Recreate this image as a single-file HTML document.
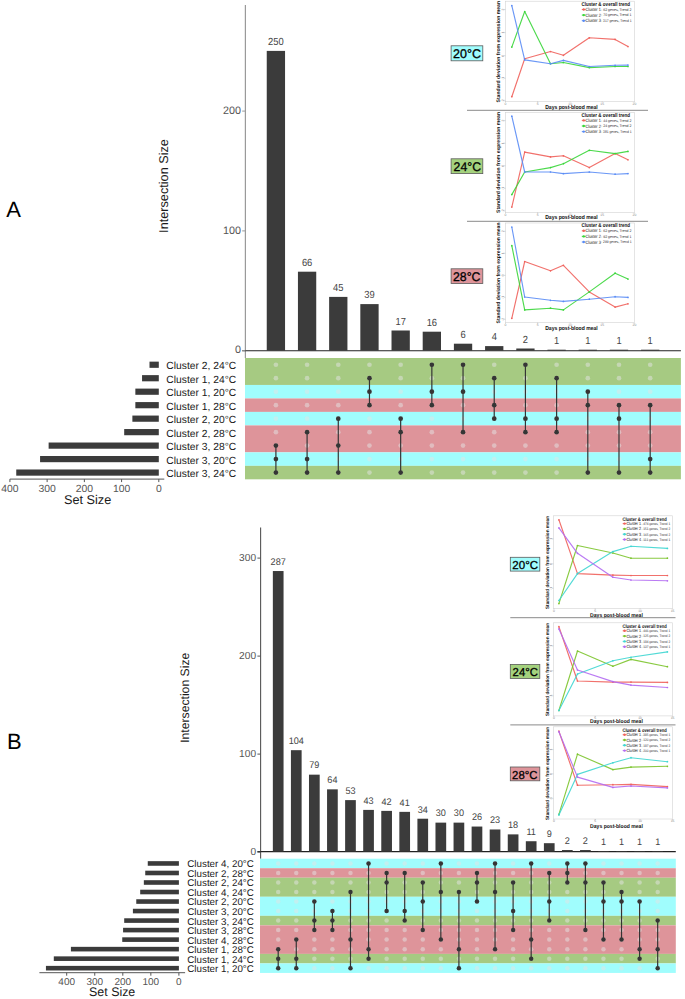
<!DOCTYPE html>
<html><head><meta charset="utf-8"><title>UpSet plots</title>
<style>
html,body{margin:0;padding:0;background:#fff;}
body{width:685px;height:999px;overflow:hidden;font-family:"Liberation Sans", sans-serif;}
svg{display:block;font-family:"Liberation Sans", sans-serif;}
</style></head>
<body>
<svg text-rendering="geometricPrecision" width="685" height="999" viewBox="0 0 685 999">
<rect width="685" height="999" fill="#fff"/>
<line x1="245.4" y1="5" x2="245.4" y2="358.0" stroke="#9a9a9a" stroke-width="1.2"/>
<line x1="242.20000000000002" y1="350.7" x2="680.9" y2="350.7" stroke="#222" stroke-width="1.1"/>
<line x1="242.20000000000002" y1="350.70" x2="245.4" y2="350.70" stroke="#9a9a9a" stroke-width="1"/>
<text x="240.90" y="353.49" font-size="10.8" fill="#555" text-anchor="end" font-weight="normal" >0</text>
<line x1="242.20000000000002" y1="230.90" x2="245.4" y2="230.90" stroke="#9a9a9a" stroke-width="1"/>
<text x="240.90" y="233.69" font-size="10.8" fill="#555" text-anchor="end" font-weight="normal" >100</text>
<line x1="242.20000000000002" y1="111.10" x2="245.4" y2="111.10" stroke="#9a9a9a" stroke-width="1"/>
<text x="240.90" y="113.89" font-size="10.8" fill="#555" text-anchor="end" font-weight="normal" >200</text>
<rect x="266.75" y="50.90" width="18.3" height="299.80" fill="#3b3b3b"/>
<text x="275.90" y="45.10" font-size="10.3" fill="#444" text-anchor="middle" font-weight="normal" textLength="15.64" lengthAdjust="spacingAndGlyphs">250</text>
<rect x="297.94" y="271.70" width="18.3" height="79.00" fill="#3b3b3b"/>
<text x="307.09" y="265.90" font-size="10.3" fill="#444" text-anchor="middle" font-weight="normal" textLength="10.42" lengthAdjust="spacingAndGlyphs">66</text>
<rect x="329.13" y="296.90" width="18.3" height="53.80" fill="#3b3b3b"/>
<text x="338.28" y="291.10" font-size="10.3" fill="#444" text-anchor="middle" font-weight="normal" textLength="10.42" lengthAdjust="spacingAndGlyphs">45</text>
<rect x="360.32" y="304.10" width="18.3" height="46.60" fill="#3b3b3b"/>
<text x="369.47" y="298.30" font-size="10.3" fill="#444" text-anchor="middle" font-weight="normal" textLength="10.42" lengthAdjust="spacingAndGlyphs">39</text>
<rect x="391.51" y="330.50" width="18.3" height="20.20" fill="#3b3b3b"/>
<text x="400.66" y="324.70" font-size="10.3" fill="#444" text-anchor="middle" font-weight="normal" textLength="10.42" lengthAdjust="spacingAndGlyphs">17</text>
<rect x="422.70" y="331.70" width="18.3" height="19.00" fill="#3b3b3b"/>
<text x="431.85" y="325.90" font-size="10.3" fill="#444" text-anchor="middle" font-weight="normal" textLength="10.42" lengthAdjust="spacingAndGlyphs">16</text>
<rect x="453.89" y="343.70" width="18.3" height="7.00" fill="#3b3b3b"/>
<text x="463.04" y="337.90" font-size="10.3" fill="#444" text-anchor="middle" font-weight="normal" textLength="5.21" lengthAdjust="spacingAndGlyphs">6</text>
<rect x="485.08" y="346.10" width="18.3" height="4.60" fill="#3b3b3b"/>
<text x="494.23" y="340.30" font-size="10.3" fill="#444" text-anchor="middle" font-weight="normal" textLength="5.21" lengthAdjust="spacingAndGlyphs">4</text>
<rect x="516.27" y="348.50" width="18.3" height="2.20" fill="#3b3b3b"/>
<text x="525.42" y="342.70" font-size="10.3" fill="#444" text-anchor="middle" font-weight="normal" textLength="5.21" lengthAdjust="spacingAndGlyphs">2</text>
<rect x="547.46" y="349.70" width="18.3" height="1.00" fill="#3b3b3b"/>
<text x="556.61" y="343.90" font-size="10.3" fill="#444" text-anchor="middle" font-weight="normal" textLength="5.21" lengthAdjust="spacingAndGlyphs">1</text>
<rect x="578.65" y="349.70" width="18.3" height="1.00" fill="#3b3b3b"/>
<text x="587.80" y="343.90" font-size="10.3" fill="#444" text-anchor="middle" font-weight="normal" textLength="5.21" lengthAdjust="spacingAndGlyphs">1</text>
<rect x="609.84" y="349.70" width="18.3" height="1.00" fill="#3b3b3b"/>
<text x="618.99" y="343.90" font-size="10.3" fill="#444" text-anchor="middle" font-weight="normal" textLength="5.21" lengthAdjust="spacingAndGlyphs">1</text>
<rect x="641.03" y="349.70" width="18.3" height="1.00" fill="#3b3b3b"/>
<text x="650.18" y="343.90" font-size="10.3" fill="#444" text-anchor="middle" font-weight="normal" textLength="5.21" lengthAdjust="spacingAndGlyphs">1</text>
<rect x="245.0" y="358.00" width="435.90" height="26.96" fill="#a6ca82"/>
<rect x="245.0" y="384.96" width="435.90" height="13.48" fill="#a0fdfd"/>
<rect x="245.0" y="398.44" width="435.90" height="13.48" fill="#de949a"/>
<rect x="245.0" y="411.92" width="435.90" height="13.48" fill="#a0fdfd"/>
<rect x="245.0" y="425.40" width="435.90" height="26.96" fill="#de949a"/>
<rect x="245.0" y="452.36" width="435.90" height="13.48" fill="#a0fdfd"/>
<rect x="245.0" y="465.84" width="435.90" height="13.48" fill="#a6ca82"/>
<circle cx="275.90" cy="364.74" r="2.35" fill="rgba(228,228,228,0.5)"/>
<circle cx="275.90" cy="378.22" r="2.35" fill="rgba(228,228,228,0.5)"/>
<circle cx="275.90" cy="391.70" r="2.35" fill="rgba(228,228,228,0.5)"/>
<circle cx="275.90" cy="405.18" r="2.35" fill="rgba(228,228,228,0.5)"/>
<circle cx="275.90" cy="418.66" r="2.35" fill="rgba(228,228,228,0.5)"/>
<circle cx="275.90" cy="432.14" r="2.35" fill="rgba(228,228,228,0.5)"/>
<circle cx="275.90" cy="445.62" r="2.35" fill="rgba(228,228,228,0.5)"/>
<circle cx="275.90" cy="459.10" r="2.35" fill="rgba(228,228,228,0.5)"/>
<circle cx="275.90" cy="472.58" r="2.35" fill="rgba(228,228,228,0.5)"/>
<circle cx="307.09" cy="364.74" r="2.35" fill="rgba(228,228,228,0.5)"/>
<circle cx="307.09" cy="378.22" r="2.35" fill="rgba(228,228,228,0.5)"/>
<circle cx="307.09" cy="391.70" r="2.35" fill="rgba(228,228,228,0.5)"/>
<circle cx="307.09" cy="405.18" r="2.35" fill="rgba(228,228,228,0.5)"/>
<circle cx="307.09" cy="418.66" r="2.35" fill="rgba(228,228,228,0.5)"/>
<circle cx="307.09" cy="432.14" r="2.35" fill="rgba(228,228,228,0.5)"/>
<circle cx="307.09" cy="445.62" r="2.35" fill="rgba(228,228,228,0.5)"/>
<circle cx="307.09" cy="459.10" r="2.35" fill="rgba(228,228,228,0.5)"/>
<circle cx="307.09" cy="472.58" r="2.35" fill="rgba(228,228,228,0.5)"/>
<circle cx="338.28" cy="364.74" r="2.35" fill="rgba(228,228,228,0.5)"/>
<circle cx="338.28" cy="378.22" r="2.35" fill="rgba(228,228,228,0.5)"/>
<circle cx="338.28" cy="391.70" r="2.35" fill="rgba(228,228,228,0.5)"/>
<circle cx="338.28" cy="405.18" r="2.35" fill="rgba(228,228,228,0.5)"/>
<circle cx="338.28" cy="418.66" r="2.35" fill="rgba(228,228,228,0.5)"/>
<circle cx="338.28" cy="432.14" r="2.35" fill="rgba(228,228,228,0.5)"/>
<circle cx="338.28" cy="445.62" r="2.35" fill="rgba(228,228,228,0.5)"/>
<circle cx="338.28" cy="459.10" r="2.35" fill="rgba(228,228,228,0.5)"/>
<circle cx="338.28" cy="472.58" r="2.35" fill="rgba(228,228,228,0.5)"/>
<circle cx="369.47" cy="364.74" r="2.35" fill="rgba(228,228,228,0.5)"/>
<circle cx="369.47" cy="378.22" r="2.35" fill="rgba(228,228,228,0.5)"/>
<circle cx="369.47" cy="391.70" r="2.35" fill="rgba(228,228,228,0.5)"/>
<circle cx="369.47" cy="405.18" r="2.35" fill="rgba(228,228,228,0.5)"/>
<circle cx="369.47" cy="418.66" r="2.35" fill="rgba(228,228,228,0.5)"/>
<circle cx="369.47" cy="432.14" r="2.35" fill="rgba(228,228,228,0.5)"/>
<circle cx="369.47" cy="445.62" r="2.35" fill="rgba(228,228,228,0.5)"/>
<circle cx="369.47" cy="459.10" r="2.35" fill="rgba(228,228,228,0.5)"/>
<circle cx="369.47" cy="472.58" r="2.35" fill="rgba(228,228,228,0.5)"/>
<circle cx="400.66" cy="364.74" r="2.35" fill="rgba(228,228,228,0.5)"/>
<circle cx="400.66" cy="378.22" r="2.35" fill="rgba(228,228,228,0.5)"/>
<circle cx="400.66" cy="391.70" r="2.35" fill="rgba(228,228,228,0.5)"/>
<circle cx="400.66" cy="405.18" r="2.35" fill="rgba(228,228,228,0.5)"/>
<circle cx="400.66" cy="418.66" r="2.35" fill="rgba(228,228,228,0.5)"/>
<circle cx="400.66" cy="432.14" r="2.35" fill="rgba(228,228,228,0.5)"/>
<circle cx="400.66" cy="445.62" r="2.35" fill="rgba(228,228,228,0.5)"/>
<circle cx="400.66" cy="459.10" r="2.35" fill="rgba(228,228,228,0.5)"/>
<circle cx="400.66" cy="472.58" r="2.35" fill="rgba(228,228,228,0.5)"/>
<circle cx="431.85" cy="364.74" r="2.35" fill="rgba(228,228,228,0.5)"/>
<circle cx="431.85" cy="378.22" r="2.35" fill="rgba(228,228,228,0.5)"/>
<circle cx="431.85" cy="391.70" r="2.35" fill="rgba(228,228,228,0.5)"/>
<circle cx="431.85" cy="405.18" r="2.35" fill="rgba(228,228,228,0.5)"/>
<circle cx="431.85" cy="418.66" r="2.35" fill="rgba(228,228,228,0.5)"/>
<circle cx="431.85" cy="432.14" r="2.35" fill="rgba(228,228,228,0.5)"/>
<circle cx="431.85" cy="445.62" r="2.35" fill="rgba(228,228,228,0.5)"/>
<circle cx="431.85" cy="459.10" r="2.35" fill="rgba(228,228,228,0.5)"/>
<circle cx="431.85" cy="472.58" r="2.35" fill="rgba(228,228,228,0.5)"/>
<circle cx="463.04" cy="364.74" r="2.35" fill="rgba(228,228,228,0.5)"/>
<circle cx="463.04" cy="378.22" r="2.35" fill="rgba(228,228,228,0.5)"/>
<circle cx="463.04" cy="391.70" r="2.35" fill="rgba(228,228,228,0.5)"/>
<circle cx="463.04" cy="405.18" r="2.35" fill="rgba(228,228,228,0.5)"/>
<circle cx="463.04" cy="418.66" r="2.35" fill="rgba(228,228,228,0.5)"/>
<circle cx="463.04" cy="432.14" r="2.35" fill="rgba(228,228,228,0.5)"/>
<circle cx="463.04" cy="445.62" r="2.35" fill="rgba(228,228,228,0.5)"/>
<circle cx="463.04" cy="459.10" r="2.35" fill="rgba(228,228,228,0.5)"/>
<circle cx="463.04" cy="472.58" r="2.35" fill="rgba(228,228,228,0.5)"/>
<circle cx="494.23" cy="364.74" r="2.35" fill="rgba(228,228,228,0.5)"/>
<circle cx="494.23" cy="378.22" r="2.35" fill="rgba(228,228,228,0.5)"/>
<circle cx="494.23" cy="391.70" r="2.35" fill="rgba(228,228,228,0.5)"/>
<circle cx="494.23" cy="405.18" r="2.35" fill="rgba(228,228,228,0.5)"/>
<circle cx="494.23" cy="418.66" r="2.35" fill="rgba(228,228,228,0.5)"/>
<circle cx="494.23" cy="432.14" r="2.35" fill="rgba(228,228,228,0.5)"/>
<circle cx="494.23" cy="445.62" r="2.35" fill="rgba(228,228,228,0.5)"/>
<circle cx="494.23" cy="459.10" r="2.35" fill="rgba(228,228,228,0.5)"/>
<circle cx="494.23" cy="472.58" r="2.35" fill="rgba(228,228,228,0.5)"/>
<circle cx="525.42" cy="364.74" r="2.35" fill="rgba(228,228,228,0.5)"/>
<circle cx="525.42" cy="378.22" r="2.35" fill="rgba(228,228,228,0.5)"/>
<circle cx="525.42" cy="391.70" r="2.35" fill="rgba(228,228,228,0.5)"/>
<circle cx="525.42" cy="405.18" r="2.35" fill="rgba(228,228,228,0.5)"/>
<circle cx="525.42" cy="418.66" r="2.35" fill="rgba(228,228,228,0.5)"/>
<circle cx="525.42" cy="432.14" r="2.35" fill="rgba(228,228,228,0.5)"/>
<circle cx="525.42" cy="445.62" r="2.35" fill="rgba(228,228,228,0.5)"/>
<circle cx="525.42" cy="459.10" r="2.35" fill="rgba(228,228,228,0.5)"/>
<circle cx="525.42" cy="472.58" r="2.35" fill="rgba(228,228,228,0.5)"/>
<circle cx="556.61" cy="364.74" r="2.35" fill="rgba(228,228,228,0.5)"/>
<circle cx="556.61" cy="378.22" r="2.35" fill="rgba(228,228,228,0.5)"/>
<circle cx="556.61" cy="391.70" r="2.35" fill="rgba(228,228,228,0.5)"/>
<circle cx="556.61" cy="405.18" r="2.35" fill="rgba(228,228,228,0.5)"/>
<circle cx="556.61" cy="418.66" r="2.35" fill="rgba(228,228,228,0.5)"/>
<circle cx="556.61" cy="432.14" r="2.35" fill="rgba(228,228,228,0.5)"/>
<circle cx="556.61" cy="445.62" r="2.35" fill="rgba(228,228,228,0.5)"/>
<circle cx="556.61" cy="459.10" r="2.35" fill="rgba(228,228,228,0.5)"/>
<circle cx="556.61" cy="472.58" r="2.35" fill="rgba(228,228,228,0.5)"/>
<circle cx="587.80" cy="364.74" r="2.35" fill="rgba(228,228,228,0.5)"/>
<circle cx="587.80" cy="378.22" r="2.35" fill="rgba(228,228,228,0.5)"/>
<circle cx="587.80" cy="391.70" r="2.35" fill="rgba(228,228,228,0.5)"/>
<circle cx="587.80" cy="405.18" r="2.35" fill="rgba(228,228,228,0.5)"/>
<circle cx="587.80" cy="418.66" r="2.35" fill="rgba(228,228,228,0.5)"/>
<circle cx="587.80" cy="432.14" r="2.35" fill="rgba(228,228,228,0.5)"/>
<circle cx="587.80" cy="445.62" r="2.35" fill="rgba(228,228,228,0.5)"/>
<circle cx="587.80" cy="459.10" r="2.35" fill="rgba(228,228,228,0.5)"/>
<circle cx="587.80" cy="472.58" r="2.35" fill="rgba(228,228,228,0.5)"/>
<circle cx="618.99" cy="364.74" r="2.35" fill="rgba(228,228,228,0.5)"/>
<circle cx="618.99" cy="378.22" r="2.35" fill="rgba(228,228,228,0.5)"/>
<circle cx="618.99" cy="391.70" r="2.35" fill="rgba(228,228,228,0.5)"/>
<circle cx="618.99" cy="405.18" r="2.35" fill="rgba(228,228,228,0.5)"/>
<circle cx="618.99" cy="418.66" r="2.35" fill="rgba(228,228,228,0.5)"/>
<circle cx="618.99" cy="432.14" r="2.35" fill="rgba(228,228,228,0.5)"/>
<circle cx="618.99" cy="445.62" r="2.35" fill="rgba(228,228,228,0.5)"/>
<circle cx="618.99" cy="459.10" r="2.35" fill="rgba(228,228,228,0.5)"/>
<circle cx="618.99" cy="472.58" r="2.35" fill="rgba(228,228,228,0.5)"/>
<circle cx="650.18" cy="364.74" r="2.35" fill="rgba(228,228,228,0.5)"/>
<circle cx="650.18" cy="378.22" r="2.35" fill="rgba(228,228,228,0.5)"/>
<circle cx="650.18" cy="391.70" r="2.35" fill="rgba(228,228,228,0.5)"/>
<circle cx="650.18" cy="405.18" r="2.35" fill="rgba(228,228,228,0.5)"/>
<circle cx="650.18" cy="418.66" r="2.35" fill="rgba(228,228,228,0.5)"/>
<circle cx="650.18" cy="432.14" r="2.35" fill="rgba(228,228,228,0.5)"/>
<circle cx="650.18" cy="445.62" r="2.35" fill="rgba(228,228,228,0.5)"/>
<circle cx="650.18" cy="459.10" r="2.35" fill="rgba(228,228,228,0.5)"/>
<circle cx="650.18" cy="472.58" r="2.35" fill="rgba(228,228,228,0.5)"/>
<line x1="275.90" y1="445.62" x2="275.90" y2="472.58" stroke="#353535" stroke-width="1.2"/>
<circle cx="275.90" cy="445.62" r="2.35" fill="#353535"/>
<circle cx="275.90" cy="459.10" r="2.35" fill="#353535"/>
<circle cx="275.90" cy="472.58" r="2.35" fill="#353535"/>
<line x1="307.09" y1="432.14" x2="307.09" y2="472.58" stroke="#353535" stroke-width="1.2"/>
<circle cx="307.09" cy="432.14" r="2.35" fill="#353535"/>
<circle cx="307.09" cy="459.10" r="2.35" fill="#353535"/>
<circle cx="307.09" cy="472.58" r="2.35" fill="#353535"/>
<line x1="338.28" y1="418.66" x2="338.28" y2="472.58" stroke="#353535" stroke-width="1.2"/>
<circle cx="338.28" cy="418.66" r="2.35" fill="#353535"/>
<circle cx="338.28" cy="445.62" r="2.35" fill="#353535"/>
<circle cx="338.28" cy="472.58" r="2.35" fill="#353535"/>
<line x1="369.47" y1="378.22" x2="369.47" y2="405.18" stroke="#353535" stroke-width="1.2"/>
<circle cx="369.47" cy="378.22" r="2.35" fill="#353535"/>
<circle cx="369.47" cy="391.70" r="2.35" fill="#353535"/>
<circle cx="369.47" cy="405.18" r="2.35" fill="#353535"/>
<line x1="400.66" y1="418.66" x2="400.66" y2="472.58" stroke="#353535" stroke-width="1.2"/>
<circle cx="400.66" cy="418.66" r="2.35" fill="#353535"/>
<circle cx="400.66" cy="432.14" r="2.35" fill="#353535"/>
<circle cx="400.66" cy="472.58" r="2.35" fill="#353535"/>
<line x1="431.85" y1="364.74" x2="431.85" y2="405.18" stroke="#353535" stroke-width="1.2"/>
<circle cx="431.85" cy="364.74" r="2.35" fill="#353535"/>
<circle cx="431.85" cy="391.70" r="2.35" fill="#353535"/>
<circle cx="431.85" cy="405.18" r="2.35" fill="#353535"/>
<line x1="463.04" y1="364.74" x2="463.04" y2="432.14" stroke="#353535" stroke-width="1.2"/>
<circle cx="463.04" cy="364.74" r="2.35" fill="#353535"/>
<circle cx="463.04" cy="391.70" r="2.35" fill="#353535"/>
<circle cx="463.04" cy="432.14" r="2.35" fill="#353535"/>
<line x1="494.23" y1="378.22" x2="494.23" y2="418.66" stroke="#353535" stroke-width="1.2"/>
<circle cx="494.23" cy="378.22" r="2.35" fill="#353535"/>
<circle cx="494.23" cy="405.18" r="2.35" fill="#353535"/>
<circle cx="494.23" cy="418.66" r="2.35" fill="#353535"/>
<line x1="525.42" y1="364.74" x2="525.42" y2="432.14" stroke="#353535" stroke-width="1.2"/>
<circle cx="525.42" cy="364.74" r="2.35" fill="#353535"/>
<circle cx="525.42" cy="418.66" r="2.35" fill="#353535"/>
<circle cx="525.42" cy="432.14" r="2.35" fill="#353535"/>
<line x1="556.61" y1="378.22" x2="556.61" y2="432.14" stroke="#353535" stroke-width="1.2"/>
<circle cx="556.61" cy="378.22" r="2.35" fill="#353535"/>
<circle cx="556.61" cy="418.66" r="2.35" fill="#353535"/>
<circle cx="556.61" cy="432.14" r="2.35" fill="#353535"/>
<line x1="587.80" y1="391.70" x2="587.80" y2="472.58" stroke="#353535" stroke-width="1.2"/>
<circle cx="587.80" cy="391.70" r="2.35" fill="#353535"/>
<circle cx="587.80" cy="405.18" r="2.35" fill="#353535"/>
<circle cx="587.80" cy="472.58" r="2.35" fill="#353535"/>
<line x1="618.99" y1="405.18" x2="618.99" y2="472.58" stroke="#353535" stroke-width="1.2"/>
<circle cx="618.99" cy="405.18" r="2.35" fill="#353535"/>
<circle cx="618.99" cy="418.66" r="2.35" fill="#353535"/>
<circle cx="618.99" cy="472.58" r="2.35" fill="#353535"/>
<line x1="650.18" y1="405.18" x2="650.18" y2="472.58" stroke="#353535" stroke-width="1.2"/>
<circle cx="650.18" cy="405.18" r="2.35" fill="#353535"/>
<circle cx="650.18" cy="459.10" r="2.35" fill="#353535"/>
<circle cx="650.18" cy="472.58" r="2.35" fill="#353535"/>
<rect x="149.50" y="361.64" width="9.30" height="6.2" fill="#3b3b3b"/>
<text x="166.30" y="369.35" font-size="10.3" fill="#1a1a1a" text-anchor="start" font-weight="normal" >Cluster 2, 24°C</text>
<rect x="142.05" y="375.12" width="16.75" height="6.2" fill="#3b3b3b"/>
<text x="166.30" y="382.83" font-size="10.3" fill="#1a1a1a" text-anchor="start" font-weight="normal" >Cluster 1, 24°C</text>
<rect x="135.35" y="388.60" width="23.45" height="6.2" fill="#3b3b3b"/>
<text x="166.30" y="396.31" font-size="10.3" fill="#1a1a1a" text-anchor="start" font-weight="normal" >Cluster 1, 20°C</text>
<rect x="135.35" y="402.08" width="23.45" height="6.2" fill="#3b3b3b"/>
<text x="166.30" y="409.79" font-size="10.3" fill="#1a1a1a" text-anchor="start" font-weight="normal" >Cluster 1, 28°C</text>
<rect x="132.37" y="415.56" width="26.43" height="6.2" fill="#3b3b3b"/>
<text x="166.30" y="423.27" font-size="10.3" fill="#1a1a1a" text-anchor="start" font-weight="normal" >Cluster 2, 20°C</text>
<rect x="124.19" y="429.04" width="34.61" height="6.2" fill="#3b3b3b"/>
<text x="166.30" y="436.75" font-size="10.3" fill="#1a1a1a" text-anchor="start" font-weight="normal" >Cluster 2, 28°C</text>
<rect x="48.63" y="442.52" width="110.17" height="6.2" fill="#3b3b3b"/>
<text x="166.30" y="450.23" font-size="10.3" fill="#1a1a1a" text-anchor="start" font-weight="normal" >Cluster 3, 28°C</text>
<rect x="40.07" y="456.00" width="118.73" height="6.2" fill="#3b3b3b"/>
<text x="166.30" y="463.71" font-size="10.3" fill="#1a1a1a" text-anchor="start" font-weight="normal" >Cluster 3, 20°C</text>
<rect x="16.25" y="469.48" width="142.55" height="6.2" fill="#3b3b3b"/>
<text x="166.30" y="477.19" font-size="10.3" fill="#1a1a1a" text-anchor="start" font-weight="normal" >Cluster 3, 24°C</text>
<line x1="9.9" y1="479.1" x2="164.3" y2="479.1" stroke="#555" stroke-width="1"/>
<line x1="158.80" y1="479.1" x2="158.80" y2="482.1" stroke="#555" stroke-width="1"/>
<text x="158.80" y="491.80" font-size="10.4" fill="#555" text-anchor="middle" font-weight="normal" >0</text>
<line x1="121.58" y1="479.1" x2="121.58" y2="482.1" stroke="#555" stroke-width="1"/>
<text x="121.58" y="491.80" font-size="10.4" fill="#555" text-anchor="middle" font-weight="normal" >100</text>
<line x1="84.36" y1="479.1" x2="84.36" y2="482.1" stroke="#555" stroke-width="1"/>
<text x="84.36" y="491.80" font-size="10.4" fill="#555" text-anchor="middle" font-weight="normal" >200</text>
<line x1="47.14" y1="479.1" x2="47.14" y2="482.1" stroke="#555" stroke-width="1"/>
<text x="47.14" y="491.80" font-size="10.4" fill="#555" text-anchor="middle" font-weight="normal" >300</text>
<line x1="9.92" y1="479.1" x2="9.92" y2="482.1" stroke="#555" stroke-width="1"/>
<text x="9.92" y="491.80" font-size="10.4" fill="#555" text-anchor="middle" font-weight="normal" >400</text>
<text x="87.60" y="504.00" font-size="12.7" fill="#1a1a1a" text-anchor="middle" font-weight="normal" >Set Size</text>
<text x="0" y="0" font-size="12.7" fill="#1a1a1a" text-anchor="middle" transform="translate(167.6,186.0) rotate(-90)">Intersection Size</text>
<text x="6.30" y="217.20" font-size="22" fill="#000" text-anchor="start" font-weight="normal" >A</text>
<line x1="260.6" y1="527.4" x2="260.6" y2="858.7" stroke="#555" stroke-width="1.1"/>
<line x1="257.40000000000003" y1="851.6" x2="675.8" y2="851.6" stroke="#222" stroke-width="1.1"/>
<line x1="257.40000000000003" y1="852.10" x2="260.6" y2="852.10" stroke="#555" stroke-width="1"/>
<text x="256.10" y="854.67" font-size="10.2" fill="#555" text-anchor="end" font-weight="normal" >0</text>
<line x1="257.40000000000003" y1="754.10" x2="260.6" y2="754.10" stroke="#555" stroke-width="1"/>
<text x="256.10" y="756.67" font-size="10.2" fill="#555" text-anchor="end" font-weight="normal" >100</text>
<line x1="257.40000000000003" y1="656.10" x2="260.6" y2="656.10" stroke="#555" stroke-width="1"/>
<text x="256.10" y="658.67" font-size="10.2" fill="#555" text-anchor="end" font-weight="normal" >200</text>
<line x1="257.40000000000003" y1="558.10" x2="260.6" y2="558.10" stroke="#555" stroke-width="1"/>
<text x="256.10" y="560.67" font-size="10.2" fill="#555" text-anchor="end" font-weight="normal" >300</text>
<rect x="272.85" y="571.03" width="10.7" height="280.57" fill="#3b3b3b"/>
<text x="278.20" y="564.83" font-size="9.6" fill="#444" text-anchor="middle" font-weight="normal" textLength="15.21" lengthAdjust="spacingAndGlyphs">287</text>
<rect x="290.92" y="750.18" width="10.7" height="101.42" fill="#3b3b3b"/>
<text x="296.27" y="743.98" font-size="9.6" fill="#444" text-anchor="middle" font-weight="normal" textLength="15.21" lengthAdjust="spacingAndGlyphs">104</text>
<rect x="308.99" y="774.66" width="10.7" height="76.94" fill="#3b3b3b"/>
<text x="314.34" y="768.46" font-size="9.6" fill="#444" text-anchor="middle" font-weight="normal" textLength="10.14" lengthAdjust="spacingAndGlyphs">79</text>
<rect x="327.06" y="789.34" width="10.7" height="62.26" fill="#3b3b3b"/>
<text x="332.41" y="783.14" font-size="9.6" fill="#444" text-anchor="middle" font-weight="normal" textLength="10.14" lengthAdjust="spacingAndGlyphs">64</text>
<rect x="345.13" y="800.11" width="10.7" height="51.49" fill="#3b3b3b"/>
<text x="350.48" y="793.91" font-size="9.6" fill="#444" text-anchor="middle" font-weight="normal" textLength="10.14" lengthAdjust="spacingAndGlyphs">53</text>
<rect x="363.20" y="809.90" width="10.7" height="41.70" fill="#3b3b3b"/>
<text x="368.55" y="803.70" font-size="9.6" fill="#444" text-anchor="middle" font-weight="normal" textLength="10.14" lengthAdjust="spacingAndGlyphs">43</text>
<rect x="381.27" y="810.88" width="10.7" height="40.72" fill="#3b3b3b"/>
<text x="386.62" y="804.68" font-size="9.6" fill="#444" text-anchor="middle" font-weight="normal" textLength="10.14" lengthAdjust="spacingAndGlyphs">42</text>
<rect x="399.34" y="811.86" width="10.7" height="39.74" fill="#3b3b3b"/>
<text x="404.69" y="805.66" font-size="9.6" fill="#444" text-anchor="middle" font-weight="normal" textLength="10.14" lengthAdjust="spacingAndGlyphs">41</text>
<rect x="417.41" y="818.71" width="10.7" height="32.89" fill="#3b3b3b"/>
<text x="422.76" y="812.51" font-size="9.6" fill="#444" text-anchor="middle" font-weight="normal" textLength="10.14" lengthAdjust="spacingAndGlyphs">34</text>
<rect x="435.48" y="822.63" width="10.7" height="28.97" fill="#3b3b3b"/>
<text x="440.83" y="816.43" font-size="9.6" fill="#444" text-anchor="middle" font-weight="normal" textLength="10.14" lengthAdjust="spacingAndGlyphs">30</text>
<rect x="453.55" y="822.63" width="10.7" height="28.97" fill="#3b3b3b"/>
<text x="458.90" y="816.43" font-size="9.6" fill="#444" text-anchor="middle" font-weight="normal" textLength="10.14" lengthAdjust="spacingAndGlyphs">30</text>
<rect x="471.62" y="826.55" width="10.7" height="25.05" fill="#3b3b3b"/>
<text x="476.97" y="820.35" font-size="9.6" fill="#444" text-anchor="middle" font-weight="normal" textLength="10.14" lengthAdjust="spacingAndGlyphs">26</text>
<rect x="489.69" y="829.48" width="10.7" height="22.12" fill="#3b3b3b"/>
<text x="495.04" y="823.28" font-size="9.6" fill="#444" text-anchor="middle" font-weight="normal" textLength="10.14" lengthAdjust="spacingAndGlyphs">23</text>
<rect x="507.76" y="834.38" width="10.7" height="17.22" fill="#3b3b3b"/>
<text x="513.11" y="828.18" font-size="9.6" fill="#444" text-anchor="middle" font-weight="normal" textLength="10.14" lengthAdjust="spacingAndGlyphs">18</text>
<rect x="525.83" y="841.23" width="10.7" height="10.37" fill="#3b3b3b"/>
<text x="531.18" y="835.03" font-size="9.6" fill="#444" text-anchor="middle" font-weight="normal" textLength="9.47" lengthAdjust="spacingAndGlyphs">11</text>
<rect x="543.90" y="843.19" width="10.7" height="8.41" fill="#3b3b3b"/>
<text x="549.25" y="836.99" font-size="9.6" fill="#444" text-anchor="middle" font-weight="normal" textLength="5.07" lengthAdjust="spacingAndGlyphs">9</text>
<rect x="561.97" y="850.04" width="10.7" height="1.56" fill="#3b3b3b"/>
<text x="567.32" y="843.84" font-size="9.6" fill="#444" text-anchor="middle" font-weight="normal" textLength="5.07" lengthAdjust="spacingAndGlyphs">2</text>
<rect x="580.04" y="850.04" width="10.7" height="1.56" fill="#3b3b3b"/>
<text x="585.39" y="843.84" font-size="9.6" fill="#444" text-anchor="middle" font-weight="normal" textLength="5.07" lengthAdjust="spacingAndGlyphs">2</text>
<rect x="598.11" y="851.02" width="10.7" height="0.58" fill="#3b3b3b"/>
<text x="603.46" y="844.82" font-size="9.6" fill="#444" text-anchor="middle" font-weight="normal" textLength="5.07" lengthAdjust="spacingAndGlyphs">1</text>
<rect x="616.18" y="851.02" width="10.7" height="0.58" fill="#3b3b3b"/>
<text x="621.53" y="844.82" font-size="9.6" fill="#444" text-anchor="middle" font-weight="normal" textLength="5.07" lengthAdjust="spacingAndGlyphs">1</text>
<rect x="634.25" y="851.02" width="10.7" height="0.58" fill="#3b3b3b"/>
<text x="639.60" y="844.82" font-size="9.6" fill="#444" text-anchor="middle" font-weight="normal" textLength="5.07" lengthAdjust="spacingAndGlyphs">1</text>
<rect x="652.32" y="851.02" width="10.7" height="0.58" fill="#3b3b3b"/>
<text x="657.67" y="844.82" font-size="9.6" fill="#444" text-anchor="middle" font-weight="normal" textLength="5.07" lengthAdjust="spacingAndGlyphs">1</text>
<rect x="260.0" y="858.70" width="415.80" height="9.52" fill="#a0fdfd"/>
<rect x="260.0" y="868.22" width="415.80" height="9.52" fill="#de949a"/>
<rect x="260.0" y="877.74" width="415.80" height="19.04" fill="#a6ca82"/>
<rect x="260.0" y="896.78" width="415.80" height="19.04" fill="#a0fdfd"/>
<rect x="260.0" y="915.82" width="415.80" height="9.52" fill="#a6ca82"/>
<rect x="260.0" y="925.34" width="415.80" height="28.56" fill="#de949a"/>
<rect x="260.0" y="953.90" width="415.80" height="9.52" fill="#a6ca82"/>
<rect x="260.0" y="963.42" width="415.80" height="9.52" fill="#a0fdfd"/>
<circle cx="278.20" cy="863.46" r="2.25" fill="rgba(228,228,228,0.5)"/>
<circle cx="278.20" cy="872.98" r="2.25" fill="rgba(228,228,228,0.5)"/>
<circle cx="278.20" cy="882.50" r="2.25" fill="rgba(228,228,228,0.5)"/>
<circle cx="278.20" cy="892.02" r="2.25" fill="rgba(228,228,228,0.5)"/>
<circle cx="278.20" cy="901.54" r="2.25" fill="rgba(228,228,228,0.5)"/>
<circle cx="278.20" cy="911.06" r="2.25" fill="rgba(228,228,228,0.5)"/>
<circle cx="278.20" cy="920.58" r="2.25" fill="rgba(228,228,228,0.5)"/>
<circle cx="278.20" cy="930.10" r="2.25" fill="rgba(228,228,228,0.5)"/>
<circle cx="278.20" cy="939.62" r="2.25" fill="rgba(228,228,228,0.5)"/>
<circle cx="278.20" cy="949.14" r="2.25" fill="rgba(228,228,228,0.5)"/>
<circle cx="278.20" cy="958.66" r="2.25" fill="rgba(228,228,228,0.5)"/>
<circle cx="278.20" cy="968.18" r="2.25" fill="rgba(228,228,228,0.5)"/>
<circle cx="296.27" cy="863.46" r="2.25" fill="rgba(228,228,228,0.5)"/>
<circle cx="296.27" cy="872.98" r="2.25" fill="rgba(228,228,228,0.5)"/>
<circle cx="296.27" cy="882.50" r="2.25" fill="rgba(228,228,228,0.5)"/>
<circle cx="296.27" cy="892.02" r="2.25" fill="rgba(228,228,228,0.5)"/>
<circle cx="296.27" cy="901.54" r="2.25" fill="rgba(228,228,228,0.5)"/>
<circle cx="296.27" cy="911.06" r="2.25" fill="rgba(228,228,228,0.5)"/>
<circle cx="296.27" cy="920.58" r="2.25" fill="rgba(228,228,228,0.5)"/>
<circle cx="296.27" cy="930.10" r="2.25" fill="rgba(228,228,228,0.5)"/>
<circle cx="296.27" cy="939.62" r="2.25" fill="rgba(228,228,228,0.5)"/>
<circle cx="296.27" cy="949.14" r="2.25" fill="rgba(228,228,228,0.5)"/>
<circle cx="296.27" cy="958.66" r="2.25" fill="rgba(228,228,228,0.5)"/>
<circle cx="296.27" cy="968.18" r="2.25" fill="rgba(228,228,228,0.5)"/>
<circle cx="314.34" cy="863.46" r="2.25" fill="rgba(228,228,228,0.5)"/>
<circle cx="314.34" cy="872.98" r="2.25" fill="rgba(228,228,228,0.5)"/>
<circle cx="314.34" cy="882.50" r="2.25" fill="rgba(228,228,228,0.5)"/>
<circle cx="314.34" cy="892.02" r="2.25" fill="rgba(228,228,228,0.5)"/>
<circle cx="314.34" cy="901.54" r="2.25" fill="rgba(228,228,228,0.5)"/>
<circle cx="314.34" cy="911.06" r="2.25" fill="rgba(228,228,228,0.5)"/>
<circle cx="314.34" cy="920.58" r="2.25" fill="rgba(228,228,228,0.5)"/>
<circle cx="314.34" cy="930.10" r="2.25" fill="rgba(228,228,228,0.5)"/>
<circle cx="314.34" cy="939.62" r="2.25" fill="rgba(228,228,228,0.5)"/>
<circle cx="314.34" cy="949.14" r="2.25" fill="rgba(228,228,228,0.5)"/>
<circle cx="314.34" cy="958.66" r="2.25" fill="rgba(228,228,228,0.5)"/>
<circle cx="314.34" cy="968.18" r="2.25" fill="rgba(228,228,228,0.5)"/>
<circle cx="332.41" cy="863.46" r="2.25" fill="rgba(228,228,228,0.5)"/>
<circle cx="332.41" cy="872.98" r="2.25" fill="rgba(228,228,228,0.5)"/>
<circle cx="332.41" cy="882.50" r="2.25" fill="rgba(228,228,228,0.5)"/>
<circle cx="332.41" cy="892.02" r="2.25" fill="rgba(228,228,228,0.5)"/>
<circle cx="332.41" cy="901.54" r="2.25" fill="rgba(228,228,228,0.5)"/>
<circle cx="332.41" cy="911.06" r="2.25" fill="rgba(228,228,228,0.5)"/>
<circle cx="332.41" cy="920.58" r="2.25" fill="rgba(228,228,228,0.5)"/>
<circle cx="332.41" cy="930.10" r="2.25" fill="rgba(228,228,228,0.5)"/>
<circle cx="332.41" cy="939.62" r="2.25" fill="rgba(228,228,228,0.5)"/>
<circle cx="332.41" cy="949.14" r="2.25" fill="rgba(228,228,228,0.5)"/>
<circle cx="332.41" cy="958.66" r="2.25" fill="rgba(228,228,228,0.5)"/>
<circle cx="332.41" cy="968.18" r="2.25" fill="rgba(228,228,228,0.5)"/>
<circle cx="350.48" cy="863.46" r="2.25" fill="rgba(228,228,228,0.5)"/>
<circle cx="350.48" cy="872.98" r="2.25" fill="rgba(228,228,228,0.5)"/>
<circle cx="350.48" cy="882.50" r="2.25" fill="rgba(228,228,228,0.5)"/>
<circle cx="350.48" cy="892.02" r="2.25" fill="rgba(228,228,228,0.5)"/>
<circle cx="350.48" cy="901.54" r="2.25" fill="rgba(228,228,228,0.5)"/>
<circle cx="350.48" cy="911.06" r="2.25" fill="rgba(228,228,228,0.5)"/>
<circle cx="350.48" cy="920.58" r="2.25" fill="rgba(228,228,228,0.5)"/>
<circle cx="350.48" cy="930.10" r="2.25" fill="rgba(228,228,228,0.5)"/>
<circle cx="350.48" cy="939.62" r="2.25" fill="rgba(228,228,228,0.5)"/>
<circle cx="350.48" cy="949.14" r="2.25" fill="rgba(228,228,228,0.5)"/>
<circle cx="350.48" cy="958.66" r="2.25" fill="rgba(228,228,228,0.5)"/>
<circle cx="350.48" cy="968.18" r="2.25" fill="rgba(228,228,228,0.5)"/>
<circle cx="368.55" cy="863.46" r="2.25" fill="rgba(228,228,228,0.5)"/>
<circle cx="368.55" cy="872.98" r="2.25" fill="rgba(228,228,228,0.5)"/>
<circle cx="368.55" cy="882.50" r="2.25" fill="rgba(228,228,228,0.5)"/>
<circle cx="368.55" cy="892.02" r="2.25" fill="rgba(228,228,228,0.5)"/>
<circle cx="368.55" cy="901.54" r="2.25" fill="rgba(228,228,228,0.5)"/>
<circle cx="368.55" cy="911.06" r="2.25" fill="rgba(228,228,228,0.5)"/>
<circle cx="368.55" cy="920.58" r="2.25" fill="rgba(228,228,228,0.5)"/>
<circle cx="368.55" cy="930.10" r="2.25" fill="rgba(228,228,228,0.5)"/>
<circle cx="368.55" cy="939.62" r="2.25" fill="rgba(228,228,228,0.5)"/>
<circle cx="368.55" cy="949.14" r="2.25" fill="rgba(228,228,228,0.5)"/>
<circle cx="368.55" cy="958.66" r="2.25" fill="rgba(228,228,228,0.5)"/>
<circle cx="368.55" cy="968.18" r="2.25" fill="rgba(228,228,228,0.5)"/>
<circle cx="386.62" cy="863.46" r="2.25" fill="rgba(228,228,228,0.5)"/>
<circle cx="386.62" cy="872.98" r="2.25" fill="rgba(228,228,228,0.5)"/>
<circle cx="386.62" cy="882.50" r="2.25" fill="rgba(228,228,228,0.5)"/>
<circle cx="386.62" cy="892.02" r="2.25" fill="rgba(228,228,228,0.5)"/>
<circle cx="386.62" cy="901.54" r="2.25" fill="rgba(228,228,228,0.5)"/>
<circle cx="386.62" cy="911.06" r="2.25" fill="rgba(228,228,228,0.5)"/>
<circle cx="386.62" cy="920.58" r="2.25" fill="rgba(228,228,228,0.5)"/>
<circle cx="386.62" cy="930.10" r="2.25" fill="rgba(228,228,228,0.5)"/>
<circle cx="386.62" cy="939.62" r="2.25" fill="rgba(228,228,228,0.5)"/>
<circle cx="386.62" cy="949.14" r="2.25" fill="rgba(228,228,228,0.5)"/>
<circle cx="386.62" cy="958.66" r="2.25" fill="rgba(228,228,228,0.5)"/>
<circle cx="386.62" cy="968.18" r="2.25" fill="rgba(228,228,228,0.5)"/>
<circle cx="404.69" cy="863.46" r="2.25" fill="rgba(228,228,228,0.5)"/>
<circle cx="404.69" cy="872.98" r="2.25" fill="rgba(228,228,228,0.5)"/>
<circle cx="404.69" cy="882.50" r="2.25" fill="rgba(228,228,228,0.5)"/>
<circle cx="404.69" cy="892.02" r="2.25" fill="rgba(228,228,228,0.5)"/>
<circle cx="404.69" cy="901.54" r="2.25" fill="rgba(228,228,228,0.5)"/>
<circle cx="404.69" cy="911.06" r="2.25" fill="rgba(228,228,228,0.5)"/>
<circle cx="404.69" cy="920.58" r="2.25" fill="rgba(228,228,228,0.5)"/>
<circle cx="404.69" cy="930.10" r="2.25" fill="rgba(228,228,228,0.5)"/>
<circle cx="404.69" cy="939.62" r="2.25" fill="rgba(228,228,228,0.5)"/>
<circle cx="404.69" cy="949.14" r="2.25" fill="rgba(228,228,228,0.5)"/>
<circle cx="404.69" cy="958.66" r="2.25" fill="rgba(228,228,228,0.5)"/>
<circle cx="404.69" cy="968.18" r="2.25" fill="rgba(228,228,228,0.5)"/>
<circle cx="422.76" cy="863.46" r="2.25" fill="rgba(228,228,228,0.5)"/>
<circle cx="422.76" cy="872.98" r="2.25" fill="rgba(228,228,228,0.5)"/>
<circle cx="422.76" cy="882.50" r="2.25" fill="rgba(228,228,228,0.5)"/>
<circle cx="422.76" cy="892.02" r="2.25" fill="rgba(228,228,228,0.5)"/>
<circle cx="422.76" cy="901.54" r="2.25" fill="rgba(228,228,228,0.5)"/>
<circle cx="422.76" cy="911.06" r="2.25" fill="rgba(228,228,228,0.5)"/>
<circle cx="422.76" cy="920.58" r="2.25" fill="rgba(228,228,228,0.5)"/>
<circle cx="422.76" cy="930.10" r="2.25" fill="rgba(228,228,228,0.5)"/>
<circle cx="422.76" cy="939.62" r="2.25" fill="rgba(228,228,228,0.5)"/>
<circle cx="422.76" cy="949.14" r="2.25" fill="rgba(228,228,228,0.5)"/>
<circle cx="422.76" cy="958.66" r="2.25" fill="rgba(228,228,228,0.5)"/>
<circle cx="422.76" cy="968.18" r="2.25" fill="rgba(228,228,228,0.5)"/>
<circle cx="440.83" cy="863.46" r="2.25" fill="rgba(228,228,228,0.5)"/>
<circle cx="440.83" cy="872.98" r="2.25" fill="rgba(228,228,228,0.5)"/>
<circle cx="440.83" cy="882.50" r="2.25" fill="rgba(228,228,228,0.5)"/>
<circle cx="440.83" cy="892.02" r="2.25" fill="rgba(228,228,228,0.5)"/>
<circle cx="440.83" cy="901.54" r="2.25" fill="rgba(228,228,228,0.5)"/>
<circle cx="440.83" cy="911.06" r="2.25" fill="rgba(228,228,228,0.5)"/>
<circle cx="440.83" cy="920.58" r="2.25" fill="rgba(228,228,228,0.5)"/>
<circle cx="440.83" cy="930.10" r="2.25" fill="rgba(228,228,228,0.5)"/>
<circle cx="440.83" cy="939.62" r="2.25" fill="rgba(228,228,228,0.5)"/>
<circle cx="440.83" cy="949.14" r="2.25" fill="rgba(228,228,228,0.5)"/>
<circle cx="440.83" cy="958.66" r="2.25" fill="rgba(228,228,228,0.5)"/>
<circle cx="440.83" cy="968.18" r="2.25" fill="rgba(228,228,228,0.5)"/>
<circle cx="458.90" cy="863.46" r="2.25" fill="rgba(228,228,228,0.5)"/>
<circle cx="458.90" cy="872.98" r="2.25" fill="rgba(228,228,228,0.5)"/>
<circle cx="458.90" cy="882.50" r="2.25" fill="rgba(228,228,228,0.5)"/>
<circle cx="458.90" cy="892.02" r="2.25" fill="rgba(228,228,228,0.5)"/>
<circle cx="458.90" cy="901.54" r="2.25" fill="rgba(228,228,228,0.5)"/>
<circle cx="458.90" cy="911.06" r="2.25" fill="rgba(228,228,228,0.5)"/>
<circle cx="458.90" cy="920.58" r="2.25" fill="rgba(228,228,228,0.5)"/>
<circle cx="458.90" cy="930.10" r="2.25" fill="rgba(228,228,228,0.5)"/>
<circle cx="458.90" cy="939.62" r="2.25" fill="rgba(228,228,228,0.5)"/>
<circle cx="458.90" cy="949.14" r="2.25" fill="rgba(228,228,228,0.5)"/>
<circle cx="458.90" cy="958.66" r="2.25" fill="rgba(228,228,228,0.5)"/>
<circle cx="458.90" cy="968.18" r="2.25" fill="rgba(228,228,228,0.5)"/>
<circle cx="476.97" cy="863.46" r="2.25" fill="rgba(228,228,228,0.5)"/>
<circle cx="476.97" cy="872.98" r="2.25" fill="rgba(228,228,228,0.5)"/>
<circle cx="476.97" cy="882.50" r="2.25" fill="rgba(228,228,228,0.5)"/>
<circle cx="476.97" cy="892.02" r="2.25" fill="rgba(228,228,228,0.5)"/>
<circle cx="476.97" cy="901.54" r="2.25" fill="rgba(228,228,228,0.5)"/>
<circle cx="476.97" cy="911.06" r="2.25" fill="rgba(228,228,228,0.5)"/>
<circle cx="476.97" cy="920.58" r="2.25" fill="rgba(228,228,228,0.5)"/>
<circle cx="476.97" cy="930.10" r="2.25" fill="rgba(228,228,228,0.5)"/>
<circle cx="476.97" cy="939.62" r="2.25" fill="rgba(228,228,228,0.5)"/>
<circle cx="476.97" cy="949.14" r="2.25" fill="rgba(228,228,228,0.5)"/>
<circle cx="476.97" cy="958.66" r="2.25" fill="rgba(228,228,228,0.5)"/>
<circle cx="476.97" cy="968.18" r="2.25" fill="rgba(228,228,228,0.5)"/>
<circle cx="495.04" cy="863.46" r="2.25" fill="rgba(228,228,228,0.5)"/>
<circle cx="495.04" cy="872.98" r="2.25" fill="rgba(228,228,228,0.5)"/>
<circle cx="495.04" cy="882.50" r="2.25" fill="rgba(228,228,228,0.5)"/>
<circle cx="495.04" cy="892.02" r="2.25" fill="rgba(228,228,228,0.5)"/>
<circle cx="495.04" cy="901.54" r="2.25" fill="rgba(228,228,228,0.5)"/>
<circle cx="495.04" cy="911.06" r="2.25" fill="rgba(228,228,228,0.5)"/>
<circle cx="495.04" cy="920.58" r="2.25" fill="rgba(228,228,228,0.5)"/>
<circle cx="495.04" cy="930.10" r="2.25" fill="rgba(228,228,228,0.5)"/>
<circle cx="495.04" cy="939.62" r="2.25" fill="rgba(228,228,228,0.5)"/>
<circle cx="495.04" cy="949.14" r="2.25" fill="rgba(228,228,228,0.5)"/>
<circle cx="495.04" cy="958.66" r="2.25" fill="rgba(228,228,228,0.5)"/>
<circle cx="495.04" cy="968.18" r="2.25" fill="rgba(228,228,228,0.5)"/>
<circle cx="513.11" cy="863.46" r="2.25" fill="rgba(228,228,228,0.5)"/>
<circle cx="513.11" cy="872.98" r="2.25" fill="rgba(228,228,228,0.5)"/>
<circle cx="513.11" cy="882.50" r="2.25" fill="rgba(228,228,228,0.5)"/>
<circle cx="513.11" cy="892.02" r="2.25" fill="rgba(228,228,228,0.5)"/>
<circle cx="513.11" cy="901.54" r="2.25" fill="rgba(228,228,228,0.5)"/>
<circle cx="513.11" cy="911.06" r="2.25" fill="rgba(228,228,228,0.5)"/>
<circle cx="513.11" cy="920.58" r="2.25" fill="rgba(228,228,228,0.5)"/>
<circle cx="513.11" cy="930.10" r="2.25" fill="rgba(228,228,228,0.5)"/>
<circle cx="513.11" cy="939.62" r="2.25" fill="rgba(228,228,228,0.5)"/>
<circle cx="513.11" cy="949.14" r="2.25" fill="rgba(228,228,228,0.5)"/>
<circle cx="513.11" cy="958.66" r="2.25" fill="rgba(228,228,228,0.5)"/>
<circle cx="513.11" cy="968.18" r="2.25" fill="rgba(228,228,228,0.5)"/>
<circle cx="531.18" cy="863.46" r="2.25" fill="rgba(228,228,228,0.5)"/>
<circle cx="531.18" cy="872.98" r="2.25" fill="rgba(228,228,228,0.5)"/>
<circle cx="531.18" cy="882.50" r="2.25" fill="rgba(228,228,228,0.5)"/>
<circle cx="531.18" cy="892.02" r="2.25" fill="rgba(228,228,228,0.5)"/>
<circle cx="531.18" cy="901.54" r="2.25" fill="rgba(228,228,228,0.5)"/>
<circle cx="531.18" cy="911.06" r="2.25" fill="rgba(228,228,228,0.5)"/>
<circle cx="531.18" cy="920.58" r="2.25" fill="rgba(228,228,228,0.5)"/>
<circle cx="531.18" cy="930.10" r="2.25" fill="rgba(228,228,228,0.5)"/>
<circle cx="531.18" cy="939.62" r="2.25" fill="rgba(228,228,228,0.5)"/>
<circle cx="531.18" cy="949.14" r="2.25" fill="rgba(228,228,228,0.5)"/>
<circle cx="531.18" cy="958.66" r="2.25" fill="rgba(228,228,228,0.5)"/>
<circle cx="531.18" cy="968.18" r="2.25" fill="rgba(228,228,228,0.5)"/>
<circle cx="549.25" cy="863.46" r="2.25" fill="rgba(228,228,228,0.5)"/>
<circle cx="549.25" cy="872.98" r="2.25" fill="rgba(228,228,228,0.5)"/>
<circle cx="549.25" cy="882.50" r="2.25" fill="rgba(228,228,228,0.5)"/>
<circle cx="549.25" cy="892.02" r="2.25" fill="rgba(228,228,228,0.5)"/>
<circle cx="549.25" cy="901.54" r="2.25" fill="rgba(228,228,228,0.5)"/>
<circle cx="549.25" cy="911.06" r="2.25" fill="rgba(228,228,228,0.5)"/>
<circle cx="549.25" cy="920.58" r="2.25" fill="rgba(228,228,228,0.5)"/>
<circle cx="549.25" cy="930.10" r="2.25" fill="rgba(228,228,228,0.5)"/>
<circle cx="549.25" cy="939.62" r="2.25" fill="rgba(228,228,228,0.5)"/>
<circle cx="549.25" cy="949.14" r="2.25" fill="rgba(228,228,228,0.5)"/>
<circle cx="549.25" cy="958.66" r="2.25" fill="rgba(228,228,228,0.5)"/>
<circle cx="549.25" cy="968.18" r="2.25" fill="rgba(228,228,228,0.5)"/>
<circle cx="567.32" cy="863.46" r="2.25" fill="rgba(228,228,228,0.5)"/>
<circle cx="567.32" cy="872.98" r="2.25" fill="rgba(228,228,228,0.5)"/>
<circle cx="567.32" cy="882.50" r="2.25" fill="rgba(228,228,228,0.5)"/>
<circle cx="567.32" cy="892.02" r="2.25" fill="rgba(228,228,228,0.5)"/>
<circle cx="567.32" cy="901.54" r="2.25" fill="rgba(228,228,228,0.5)"/>
<circle cx="567.32" cy="911.06" r="2.25" fill="rgba(228,228,228,0.5)"/>
<circle cx="567.32" cy="920.58" r="2.25" fill="rgba(228,228,228,0.5)"/>
<circle cx="567.32" cy="930.10" r="2.25" fill="rgba(228,228,228,0.5)"/>
<circle cx="567.32" cy="939.62" r="2.25" fill="rgba(228,228,228,0.5)"/>
<circle cx="567.32" cy="949.14" r="2.25" fill="rgba(228,228,228,0.5)"/>
<circle cx="567.32" cy="958.66" r="2.25" fill="rgba(228,228,228,0.5)"/>
<circle cx="567.32" cy="968.18" r="2.25" fill="rgba(228,228,228,0.5)"/>
<circle cx="585.39" cy="863.46" r="2.25" fill="rgba(228,228,228,0.5)"/>
<circle cx="585.39" cy="872.98" r="2.25" fill="rgba(228,228,228,0.5)"/>
<circle cx="585.39" cy="882.50" r="2.25" fill="rgba(228,228,228,0.5)"/>
<circle cx="585.39" cy="892.02" r="2.25" fill="rgba(228,228,228,0.5)"/>
<circle cx="585.39" cy="901.54" r="2.25" fill="rgba(228,228,228,0.5)"/>
<circle cx="585.39" cy="911.06" r="2.25" fill="rgba(228,228,228,0.5)"/>
<circle cx="585.39" cy="920.58" r="2.25" fill="rgba(228,228,228,0.5)"/>
<circle cx="585.39" cy="930.10" r="2.25" fill="rgba(228,228,228,0.5)"/>
<circle cx="585.39" cy="939.62" r="2.25" fill="rgba(228,228,228,0.5)"/>
<circle cx="585.39" cy="949.14" r="2.25" fill="rgba(228,228,228,0.5)"/>
<circle cx="585.39" cy="958.66" r="2.25" fill="rgba(228,228,228,0.5)"/>
<circle cx="585.39" cy="968.18" r="2.25" fill="rgba(228,228,228,0.5)"/>
<circle cx="603.46" cy="863.46" r="2.25" fill="rgba(228,228,228,0.5)"/>
<circle cx="603.46" cy="872.98" r="2.25" fill="rgba(228,228,228,0.5)"/>
<circle cx="603.46" cy="882.50" r="2.25" fill="rgba(228,228,228,0.5)"/>
<circle cx="603.46" cy="892.02" r="2.25" fill="rgba(228,228,228,0.5)"/>
<circle cx="603.46" cy="901.54" r="2.25" fill="rgba(228,228,228,0.5)"/>
<circle cx="603.46" cy="911.06" r="2.25" fill="rgba(228,228,228,0.5)"/>
<circle cx="603.46" cy="920.58" r="2.25" fill="rgba(228,228,228,0.5)"/>
<circle cx="603.46" cy="930.10" r="2.25" fill="rgba(228,228,228,0.5)"/>
<circle cx="603.46" cy="939.62" r="2.25" fill="rgba(228,228,228,0.5)"/>
<circle cx="603.46" cy="949.14" r="2.25" fill="rgba(228,228,228,0.5)"/>
<circle cx="603.46" cy="958.66" r="2.25" fill="rgba(228,228,228,0.5)"/>
<circle cx="603.46" cy="968.18" r="2.25" fill="rgba(228,228,228,0.5)"/>
<circle cx="621.53" cy="863.46" r="2.25" fill="rgba(228,228,228,0.5)"/>
<circle cx="621.53" cy="872.98" r="2.25" fill="rgba(228,228,228,0.5)"/>
<circle cx="621.53" cy="882.50" r="2.25" fill="rgba(228,228,228,0.5)"/>
<circle cx="621.53" cy="892.02" r="2.25" fill="rgba(228,228,228,0.5)"/>
<circle cx="621.53" cy="901.54" r="2.25" fill="rgba(228,228,228,0.5)"/>
<circle cx="621.53" cy="911.06" r="2.25" fill="rgba(228,228,228,0.5)"/>
<circle cx="621.53" cy="920.58" r="2.25" fill="rgba(228,228,228,0.5)"/>
<circle cx="621.53" cy="930.10" r="2.25" fill="rgba(228,228,228,0.5)"/>
<circle cx="621.53" cy="939.62" r="2.25" fill="rgba(228,228,228,0.5)"/>
<circle cx="621.53" cy="949.14" r="2.25" fill="rgba(228,228,228,0.5)"/>
<circle cx="621.53" cy="958.66" r="2.25" fill="rgba(228,228,228,0.5)"/>
<circle cx="621.53" cy="968.18" r="2.25" fill="rgba(228,228,228,0.5)"/>
<circle cx="639.60" cy="863.46" r="2.25" fill="rgba(228,228,228,0.5)"/>
<circle cx="639.60" cy="872.98" r="2.25" fill="rgba(228,228,228,0.5)"/>
<circle cx="639.60" cy="882.50" r="2.25" fill="rgba(228,228,228,0.5)"/>
<circle cx="639.60" cy="892.02" r="2.25" fill="rgba(228,228,228,0.5)"/>
<circle cx="639.60" cy="901.54" r="2.25" fill="rgba(228,228,228,0.5)"/>
<circle cx="639.60" cy="911.06" r="2.25" fill="rgba(228,228,228,0.5)"/>
<circle cx="639.60" cy="920.58" r="2.25" fill="rgba(228,228,228,0.5)"/>
<circle cx="639.60" cy="930.10" r="2.25" fill="rgba(228,228,228,0.5)"/>
<circle cx="639.60" cy="939.62" r="2.25" fill="rgba(228,228,228,0.5)"/>
<circle cx="639.60" cy="949.14" r="2.25" fill="rgba(228,228,228,0.5)"/>
<circle cx="639.60" cy="958.66" r="2.25" fill="rgba(228,228,228,0.5)"/>
<circle cx="639.60" cy="968.18" r="2.25" fill="rgba(228,228,228,0.5)"/>
<circle cx="657.67" cy="863.46" r="2.25" fill="rgba(228,228,228,0.5)"/>
<circle cx="657.67" cy="872.98" r="2.25" fill="rgba(228,228,228,0.5)"/>
<circle cx="657.67" cy="882.50" r="2.25" fill="rgba(228,228,228,0.5)"/>
<circle cx="657.67" cy="892.02" r="2.25" fill="rgba(228,228,228,0.5)"/>
<circle cx="657.67" cy="901.54" r="2.25" fill="rgba(228,228,228,0.5)"/>
<circle cx="657.67" cy="911.06" r="2.25" fill="rgba(228,228,228,0.5)"/>
<circle cx="657.67" cy="920.58" r="2.25" fill="rgba(228,228,228,0.5)"/>
<circle cx="657.67" cy="930.10" r="2.25" fill="rgba(228,228,228,0.5)"/>
<circle cx="657.67" cy="939.62" r="2.25" fill="rgba(228,228,228,0.5)"/>
<circle cx="657.67" cy="949.14" r="2.25" fill="rgba(228,228,228,0.5)"/>
<circle cx="657.67" cy="958.66" r="2.25" fill="rgba(228,228,228,0.5)"/>
<circle cx="657.67" cy="968.18" r="2.25" fill="rgba(228,228,228,0.5)"/>
<line x1="278.20" y1="949.14" x2="278.20" y2="968.18" stroke="#353535" stroke-width="1.2"/>
<circle cx="278.20" cy="949.14" r="2.25" fill="#353535"/>
<circle cx="278.20" cy="958.66" r="2.25" fill="#353535"/>
<circle cx="278.20" cy="968.18" r="2.25" fill="#353535"/>
<line x1="296.27" y1="939.62" x2="296.27" y2="968.18" stroke="#353535" stroke-width="1.2"/>
<circle cx="296.27" cy="939.62" r="2.25" fill="#353535"/>
<circle cx="296.27" cy="958.66" r="2.25" fill="#353535"/>
<circle cx="296.27" cy="968.18" r="2.25" fill="#353535"/>
<line x1="314.34" y1="901.54" x2="314.34" y2="930.10" stroke="#353535" stroke-width="1.2"/>
<circle cx="314.34" cy="901.54" r="2.25" fill="#353535"/>
<circle cx="314.34" cy="920.58" r="2.25" fill="#353535"/>
<circle cx="314.34" cy="930.10" r="2.25" fill="#353535"/>
<line x1="332.41" y1="911.06" x2="332.41" y2="930.10" stroke="#353535" stroke-width="1.2"/>
<circle cx="332.41" cy="911.06" r="2.25" fill="#353535"/>
<circle cx="332.41" cy="920.58" r="2.25" fill="#353535"/>
<circle cx="332.41" cy="930.10" r="2.25" fill="#353535"/>
<line x1="350.48" y1="892.02" x2="350.48" y2="968.18" stroke="#353535" stroke-width="1.2"/>
<circle cx="350.48" cy="892.02" r="2.25" fill="#353535"/>
<circle cx="350.48" cy="939.62" r="2.25" fill="#353535"/>
<circle cx="350.48" cy="968.18" r="2.25" fill="#353535"/>
<line x1="368.55" y1="863.46" x2="368.55" y2="958.66" stroke="#353535" stroke-width="1.2"/>
<circle cx="368.55" cy="863.46" r="2.25" fill="#353535"/>
<circle cx="368.55" cy="949.14" r="2.25" fill="#353535"/>
<circle cx="368.55" cy="958.66" r="2.25" fill="#353535"/>
<line x1="386.62" y1="872.98" x2="386.62" y2="911.06" stroke="#353535" stroke-width="1.2"/>
<circle cx="386.62" cy="872.98" r="2.25" fill="#353535"/>
<circle cx="386.62" cy="882.50" r="2.25" fill="#353535"/>
<circle cx="386.62" cy="911.06" r="2.25" fill="#353535"/>
<line x1="404.69" y1="872.98" x2="404.69" y2="920.58" stroke="#353535" stroke-width="1.2"/>
<circle cx="404.69" cy="872.98" r="2.25" fill="#353535"/>
<circle cx="404.69" cy="911.06" r="2.25" fill="#353535"/>
<circle cx="404.69" cy="920.58" r="2.25" fill="#353535"/>
<line x1="422.76" y1="882.50" x2="422.76" y2="930.10" stroke="#353535" stroke-width="1.2"/>
<circle cx="422.76" cy="882.50" r="2.25" fill="#353535"/>
<circle cx="422.76" cy="901.54" r="2.25" fill="#353535"/>
<circle cx="422.76" cy="930.10" r="2.25" fill="#353535"/>
<line x1="440.83" y1="863.46" x2="440.83" y2="939.62" stroke="#353535" stroke-width="1.2"/>
<circle cx="440.83" cy="863.46" r="2.25" fill="#353535"/>
<circle cx="440.83" cy="892.02" r="2.25" fill="#353535"/>
<circle cx="440.83" cy="939.62" r="2.25" fill="#353535"/>
<line x1="458.90" y1="892.02" x2="458.90" y2="968.18" stroke="#353535" stroke-width="1.2"/>
<circle cx="458.90" cy="892.02" r="2.25" fill="#353535"/>
<circle cx="458.90" cy="949.14" r="2.25" fill="#353535"/>
<circle cx="458.90" cy="968.18" r="2.25" fill="#353535"/>
<line x1="476.97" y1="872.98" x2="476.97" y2="901.54" stroke="#353535" stroke-width="1.2"/>
<circle cx="476.97" cy="872.98" r="2.25" fill="#353535"/>
<circle cx="476.97" cy="882.50" r="2.25" fill="#353535"/>
<circle cx="476.97" cy="901.54" r="2.25" fill="#353535"/>
<line x1="495.04" y1="863.46" x2="495.04" y2="949.14" stroke="#353535" stroke-width="1.2"/>
<circle cx="495.04" cy="863.46" r="2.25" fill="#353535"/>
<circle cx="495.04" cy="892.02" r="2.25" fill="#353535"/>
<circle cx="495.04" cy="949.14" r="2.25" fill="#353535"/>
<line x1="513.11" y1="882.50" x2="513.11" y2="930.10" stroke="#353535" stroke-width="1.2"/>
<circle cx="513.11" cy="882.50" r="2.25" fill="#353535"/>
<circle cx="513.11" cy="911.06" r="2.25" fill="#353535"/>
<circle cx="513.11" cy="930.10" r="2.25" fill="#353535"/>
<line x1="531.18" y1="863.46" x2="531.18" y2="958.66" stroke="#353535" stroke-width="1.2"/>
<circle cx="531.18" cy="863.46" r="2.25" fill="#353535"/>
<circle cx="531.18" cy="939.62" r="2.25" fill="#353535"/>
<circle cx="531.18" cy="958.66" r="2.25" fill="#353535"/>
<line x1="549.25" y1="872.98" x2="549.25" y2="920.58" stroke="#353535" stroke-width="1.2"/>
<circle cx="549.25" cy="872.98" r="2.25" fill="#353535"/>
<circle cx="549.25" cy="901.54" r="2.25" fill="#353535"/>
<circle cx="549.25" cy="920.58" r="2.25" fill="#353535"/>
<line x1="567.32" y1="863.46" x2="567.32" y2="882.50" stroke="#353535" stroke-width="1.2"/>
<circle cx="567.32" cy="863.46" r="2.25" fill="#353535"/>
<circle cx="567.32" cy="872.98" r="2.25" fill="#353535"/>
<circle cx="567.32" cy="882.50" r="2.25" fill="#353535"/>
<line x1="585.39" y1="863.46" x2="585.39" y2="930.10" stroke="#353535" stroke-width="1.2"/>
<circle cx="585.39" cy="863.46" r="2.25" fill="#353535"/>
<circle cx="585.39" cy="882.50" r="2.25" fill="#353535"/>
<circle cx="585.39" cy="930.10" r="2.25" fill="#353535"/>
<line x1="603.46" y1="882.50" x2="603.46" y2="939.62" stroke="#353535" stroke-width="1.2"/>
<circle cx="603.46" cy="882.50" r="2.25" fill="#353535"/>
<circle cx="603.46" cy="901.54" r="2.25" fill="#353535"/>
<circle cx="603.46" cy="939.62" r="2.25" fill="#353535"/>
<line x1="621.53" y1="892.02" x2="621.53" y2="939.62" stroke="#353535" stroke-width="1.2"/>
<circle cx="621.53" cy="892.02" r="2.25" fill="#353535"/>
<circle cx="621.53" cy="901.54" r="2.25" fill="#353535"/>
<circle cx="621.53" cy="939.62" r="2.25" fill="#353535"/>
<line x1="639.60" y1="901.54" x2="639.60" y2="958.66" stroke="#353535" stroke-width="1.2"/>
<circle cx="639.60" cy="901.54" r="2.25" fill="#353535"/>
<circle cx="639.60" cy="949.14" r="2.25" fill="#353535"/>
<circle cx="639.60" cy="958.66" r="2.25" fill="#353535"/>
<line x1="657.67" y1="920.58" x2="657.67" y2="968.18" stroke="#353535" stroke-width="1.2"/>
<circle cx="657.67" cy="920.58" r="2.25" fill="#353535"/>
<circle cx="657.67" cy="949.14" r="2.25" fill="#353535"/>
<circle cx="657.67" cy="968.18" r="2.25" fill="#353535"/>
<rect x="147.76" y="861.16" width="31.14" height="4.6" fill="#3b3b3b"/>
<text x="187.30" y="867.39" font-size="9.8" fill="#1a1a1a" text-anchor="start" font-weight="normal" >Cluster 4, 20°C</text>
<rect x="145.24" y="870.68" width="33.66" height="4.6" fill="#3b3b3b"/>
<text x="187.30" y="876.91" font-size="9.8" fill="#1a1a1a" text-anchor="start" font-weight="normal" >Cluster 2, 28°C</text>
<rect x="143.84" y="880.20" width="35.06" height="4.6" fill="#3b3b3b"/>
<text x="187.30" y="886.43" font-size="9.8" fill="#1a1a1a" text-anchor="start" font-weight="normal" >Cluster 2, 24°C</text>
<rect x="140.19" y="889.72" width="38.71" height="4.6" fill="#3b3b3b"/>
<text x="187.30" y="895.95" font-size="9.8" fill="#1a1a1a" text-anchor="start" font-weight="normal" >Cluster 4, 24°C</text>
<rect x="136.26" y="899.24" width="42.64" height="4.6" fill="#3b3b3b"/>
<text x="187.30" y="905.47" font-size="9.8" fill="#1a1a1a" text-anchor="start" font-weight="normal" >Cluster 2, 20°C</text>
<rect x="132.90" y="908.76" width="46.00" height="4.6" fill="#3b3b3b"/>
<text x="187.30" y="914.99" font-size="9.8" fill="#1a1a1a" text-anchor="start" font-weight="normal" >Cluster 3, 20°C</text>
<rect x="124.20" y="918.28" width="54.70" height="4.6" fill="#3b3b3b"/>
<text x="187.30" y="924.51" font-size="9.8" fill="#1a1a1a" text-anchor="start" font-weight="normal" >Cluster 3, 24°C</text>
<rect x="123.08" y="927.80" width="55.82" height="4.6" fill="#3b3b3b"/>
<text x="187.30" y="934.03" font-size="9.8" fill="#1a1a1a" text-anchor="start" font-weight="normal" >Cluster 3, 28°C</text>
<rect x="122.24" y="937.32" width="56.66" height="4.6" fill="#3b3b3b"/>
<text x="187.30" y="943.55" font-size="9.8" fill="#1a1a1a" text-anchor="start" font-weight="normal" >Cluster 4, 28°C</text>
<rect x="70.91" y="946.84" width="107.99" height="4.6" fill="#3b3b3b"/>
<text x="187.30" y="953.07" font-size="9.8" fill="#1a1a1a" text-anchor="start" font-weight="normal" >Cluster 1, 28°C</text>
<rect x="53.80" y="956.36" width="125.10" height="4.6" fill="#3b3b3b"/>
<text x="187.30" y="962.59" font-size="9.8" fill="#1a1a1a" text-anchor="start" font-weight="normal" >Cluster 1, 24°C</text>
<rect x="45.94" y="965.88" width="132.96" height="4.6" fill="#3b3b3b"/>
<text x="187.30" y="972.11" font-size="9.8" fill="#1a1a1a" text-anchor="start" font-weight="normal" >Cluster 1, 20°C</text>
<line x1="39.4" y1="972.7" x2="185.1" y2="972.7" stroke="#555" stroke-width="1"/>
<line x1="178.90" y1="972.7" x2="178.90" y2="975.7" stroke="#555" stroke-width="1"/>
<text x="178.90" y="984.60" font-size="10.0" fill="#555" text-anchor="middle" font-weight="normal" >0</text>
<line x1="150.85" y1="972.7" x2="150.85" y2="975.7" stroke="#555" stroke-width="1"/>
<text x="150.85" y="984.60" font-size="10.0" fill="#555" text-anchor="middle" font-weight="normal" >100</text>
<line x1="122.80" y1="972.7" x2="122.80" y2="975.7" stroke="#555" stroke-width="1"/>
<text x="122.80" y="984.60" font-size="10.0" fill="#555" text-anchor="middle" font-weight="normal" >200</text>
<line x1="94.75" y1="972.7" x2="94.75" y2="975.7" stroke="#555" stroke-width="1"/>
<text x="94.75" y="984.60" font-size="10.0" fill="#555" text-anchor="middle" font-weight="normal" >300</text>
<line x1="66.70" y1="972.7" x2="66.70" y2="975.7" stroke="#555" stroke-width="1"/>
<text x="66.70" y="984.60" font-size="10.0" fill="#555" text-anchor="middle" font-weight="normal" >400</text>
<text x="112.20" y="996.30" font-size="12.4" fill="#1a1a1a" text-anchor="middle" font-weight="normal" >Set Size</text>
<text x="0" y="0" font-size="12.2" fill="#1a1a1a" text-anchor="middle" transform="translate(188.6,697.8) rotate(-90)">Intersection Size</text>
<text x="7.00" y="749.40" font-size="22" fill="#000" text-anchor="start" font-weight="normal" >B</text>
<rect x="451.1" y="45.8" width="31.70" height="15.00" fill="#a0fdfd" stroke="#5a5a5a" stroke-width="0.8"/>
<text x="453.1" y="58.2" font-size="12.5" fill="#000" stroke="#000" stroke-width="0.3" textLength="27.90" lengthAdjust="spacingAndGlyphs">20°C</text>
<rect x="505.4" y="1.2" width="129.20" height="100.10" fill="#fff" stroke="#d2d2d2" stroke-width="0.6"/>
<line x1="504.2" y1="9.50" x2="505.4" y2="9.50" stroke="#aaa" stroke-width="0.4"/>
<text x="0" y="0" font-size="3.4" fill="#888" text-anchor="middle" transform="translate(503.80,9.50) rotate(-90)">2</text>
<line x1="504.2" y1="32.60" x2="505.4" y2="32.60" stroke="#aaa" stroke-width="0.4"/>
<text x="0" y="0" font-size="3.4" fill="#888" text-anchor="middle" transform="translate(503.80,32.60) rotate(-90)">1</text>
<line x1="504.2" y1="55.70" x2="505.4" y2="55.70" stroke="#aaa" stroke-width="0.4"/>
<text x="0" y="0" font-size="3.4" fill="#888" text-anchor="middle" transform="translate(503.80,55.70) rotate(-90)">0</text>
<line x1="504.2" y1="78.30" x2="505.4" y2="78.30" stroke="#aaa" stroke-width="0.4"/>
<text x="0" y="0" font-size="3.4" fill="#888" text-anchor="middle" transform="translate(503.80,78.30) rotate(-90)">-1</text>
<line x1="504.2" y1="100.90" x2="505.4" y2="100.90" stroke="#aaa" stroke-width="0.4"/>
<text x="0" y="0" font-size="3.4" fill="#888" text-anchor="middle" transform="translate(503.80,100.90) rotate(-90)">-2</text>
<line x1="505.50" y1="101.3" x2="505.50" y2="102.5" stroke="#aaa" stroke-width="0.4"/>
<text x="505.50" y="104.70" font-size="3.4" fill="#888" text-anchor="middle" font-weight="normal" >0</text>
<line x1="537.60" y1="101.3" x2="537.60" y2="102.5" stroke="#aaa" stroke-width="0.4"/>
<text x="537.60" y="104.70" font-size="3.4" fill="#888" text-anchor="middle" font-weight="normal" >5</text>
<line x1="570.20" y1="101.3" x2="570.20" y2="102.5" stroke="#aaa" stroke-width="0.4"/>
<text x="570.20" y="104.70" font-size="3.4" fill="#888" text-anchor="middle" font-weight="normal" >10</text>
<line x1="602.20" y1="101.3" x2="602.20" y2="102.5" stroke="#aaa" stroke-width="0.4"/>
<text x="602.20" y="104.70" font-size="3.4" fill="#888" text-anchor="middle" font-weight="normal" >15</text>
<line x1="634.50" y1="101.3" x2="634.50" y2="102.5" stroke="#aaa" stroke-width="0.4"/>
<text x="634.50" y="104.70" font-size="3.4" fill="#888" text-anchor="middle" font-weight="normal" >20</text>
<text x="0" y="0" font-size="5.2" font-weight="bold" fill="#111" text-anchor="middle" textLength="101.50" lengthAdjust="spacingAndGlyphs" transform="translate(499.6,51.75) rotate(-90)">Standard deviation from expression mean</text>
<text x="545.2" y="108.9" font-size="5.7" font-weight="bold" fill="#111" textLength="52.50" lengthAdjust="spacingAndGlyphs">Days post-blood meal</text>
<polyline points="511.8,96.7 524.7,58.8 550.5,51.5 563.4,55.3 589.3,37.8 615.1,39.4 628.0,46.6" fill="none" stroke="#f0625c" stroke-width="1.15" stroke-linejoin="round" stroke-opacity="0.9"/>
<circle cx="511.8" cy="96.7" r="0.85" fill="#f0625c"/>
<circle cx="524.7" cy="58.8" r="0.85" fill="#f0625c"/>
<circle cx="550.5" cy="51.5" r="0.85" fill="#f0625c"/>
<circle cx="563.4" cy="55.3" r="0.85" fill="#f0625c"/>
<circle cx="589.3" cy="37.8" r="0.85" fill="#f0625c"/>
<circle cx="615.1" cy="39.4" r="0.85" fill="#f0625c"/>
<circle cx="628.0" cy="46.6" r="0.85" fill="#f0625c"/>
<polyline points="511.8,47.1 524.7,11.5 550.5,63.7 563.4,62.5 589.3,67.6 615.1,66.5 628.0,66.5" fill="none" stroke="#3ad63a" stroke-width="1.15" stroke-linejoin="round" stroke-opacity="0.9"/>
<circle cx="511.8" cy="47.1" r="0.85" fill="#3ad63a"/>
<circle cx="524.7" cy="11.5" r="0.85" fill="#3ad63a"/>
<circle cx="550.5" cy="63.7" r="0.85" fill="#3ad63a"/>
<circle cx="563.4" cy="62.5" r="0.85" fill="#3ad63a"/>
<circle cx="589.3" cy="67.6" r="0.85" fill="#3ad63a"/>
<circle cx="615.1" cy="66.5" r="0.85" fill="#3ad63a"/>
<circle cx="628.0" cy="66.5" r="0.85" fill="#3ad63a"/>
<polyline points="511.8,5.6 524.7,59.9 550.5,63.7 563.4,60.4 589.3,66.5 615.1,65.3 628.0,65.1" fill="none" stroke="#5a8cf5" stroke-width="1.15" stroke-linejoin="round" stroke-opacity="0.9"/>
<circle cx="511.8" cy="5.6" r="0.85" fill="#5a8cf5"/>
<circle cx="524.7" cy="59.9" r="0.85" fill="#5a8cf5"/>
<circle cx="550.5" cy="63.7" r="0.85" fill="#5a8cf5"/>
<circle cx="563.4" cy="60.4" r="0.85" fill="#5a8cf5"/>
<circle cx="589.3" cy="66.5" r="0.85" fill="#5a8cf5"/>
<circle cx="615.1" cy="65.3" r="0.85" fill="#5a8cf5"/>
<circle cx="628.0" cy="65.1" r="0.85" fill="#5a8cf5"/>
<text x="581.5" y="6.0" font-size="5.5" font-weight="bold" fill="#111" textLength="48.50" lengthAdjust="spacingAndGlyphs">Cluster &amp; overall trend</text>
<line x1="581.8" y1="9.50" x2="585.6" y2="9.50" stroke="#f0625c" stroke-width="0.9"/>
<circle cx="583.70" cy="9.50" r="1.2" fill="#f0625c"/>
<text x="585.6" y="11.05" font-size="4.7" fill="#111" textLength="15.20" lengthAdjust="spacingAndGlyphs">Cluster 1</text>
<text x="601.10" y="10.80" font-size="3.7" fill="#333" textLength="30.40" lengthAdjust="spacingAndGlyphs"> - 62 genes, Trend 2</text>
<line x1="581.8" y1="15.10" x2="585.6" y2="15.10" stroke="#3ad63a" stroke-width="0.9"/>
<circle cx="583.70" cy="15.10" r="1.2" fill="#3ad63a"/>
<text x="585.6" y="16.65" font-size="4.7" fill="#111" textLength="15.20" lengthAdjust="spacingAndGlyphs">Cluster 2</text>
<text x="601.10" y="16.40" font-size="3.7" fill="#333" textLength="30.40" lengthAdjust="spacingAndGlyphs"> - 70 genes, Trend 1</text>
<line x1="581.8" y1="20.70" x2="585.6" y2="20.70" stroke="#5a8cf5" stroke-width="0.9"/>
<circle cx="583.70" cy="20.70" r="1.2" fill="#5a8cf5"/>
<text x="585.6" y="22.25" font-size="4.7" fill="#111" textLength="15.20" lengthAdjust="spacingAndGlyphs">Cluster 3</text>
<text x="601.10" y="22.00" font-size="3.7" fill="#333" textLength="30.40" lengthAdjust="spacingAndGlyphs"> - 317 genes, Trend 1</text>
<line x1="467" y1="110.3" x2="648" y2="110.3" stroke="#8a8a8a" stroke-width="1"/>
<rect x="451.1" y="158.8" width="31.70" height="14.80" fill="#a4d27e" stroke="#5a5a5a" stroke-width="0.8"/>
<text x="453.6" y="171.0" font-size="12.5" fill="#000" stroke="#000" stroke-width="0.3" textLength="27.40" lengthAdjust="spacingAndGlyphs">24°C</text>
<rect x="505.4" y="112.6" width="129.20" height="99.80" fill="#fff" stroke="#d2d2d2" stroke-width="0.6"/>
<line x1="504.2" y1="120.60" x2="505.4" y2="120.60" stroke="#aaa" stroke-width="0.4"/>
<text x="0" y="0" font-size="3.4" fill="#888" text-anchor="middle" transform="translate(503.80,120.60) rotate(-90)">2</text>
<line x1="504.2" y1="143.30" x2="505.4" y2="143.30" stroke="#aaa" stroke-width="0.4"/>
<text x="0" y="0" font-size="3.4" fill="#888" text-anchor="middle" transform="translate(503.80,143.30) rotate(-90)">1</text>
<line x1="504.2" y1="165.80" x2="505.4" y2="165.80" stroke="#aaa" stroke-width="0.4"/>
<text x="0" y="0" font-size="3.4" fill="#888" text-anchor="middle" transform="translate(503.80,165.80) rotate(-90)">0</text>
<line x1="504.2" y1="188.40" x2="505.4" y2="188.40" stroke="#aaa" stroke-width="0.4"/>
<text x="0" y="0" font-size="3.4" fill="#888" text-anchor="middle" transform="translate(503.80,188.40) rotate(-90)">-1</text>
<line x1="504.2" y1="211.00" x2="505.4" y2="211.00" stroke="#aaa" stroke-width="0.4"/>
<text x="0" y="0" font-size="3.4" fill="#888" text-anchor="middle" transform="translate(503.80,211.00) rotate(-90)">-2</text>
<line x1="505.50" y1="212.4" x2="505.50" y2="213.6" stroke="#aaa" stroke-width="0.4"/>
<text x="505.50" y="215.80" font-size="3.4" fill="#888" text-anchor="middle" font-weight="normal" >0</text>
<line x1="537.60" y1="212.4" x2="537.60" y2="213.6" stroke="#aaa" stroke-width="0.4"/>
<text x="537.60" y="215.80" font-size="3.4" fill="#888" text-anchor="middle" font-weight="normal" >5</text>
<line x1="570.20" y1="212.4" x2="570.20" y2="213.6" stroke="#aaa" stroke-width="0.4"/>
<text x="570.20" y="215.80" font-size="3.4" fill="#888" text-anchor="middle" font-weight="normal" >10</text>
<line x1="602.20" y1="212.4" x2="602.20" y2="213.6" stroke="#aaa" stroke-width="0.4"/>
<text x="602.20" y="215.80" font-size="3.4" fill="#888" text-anchor="middle" font-weight="normal" >15</text>
<line x1="634.50" y1="212.4" x2="634.50" y2="213.6" stroke="#aaa" stroke-width="0.4"/>
<text x="634.50" y="215.80" font-size="3.4" fill="#888" text-anchor="middle" font-weight="normal" >20</text>
<text x="0" y="0" font-size="5.2" font-weight="bold" fill="#111" text-anchor="middle" textLength="101.00" lengthAdjust="spacingAndGlyphs" transform="translate(499.6,162.50) rotate(-90)">Standard deviation from expression mean</text>
<text x="545.2" y="219.4" font-size="5.7" font-weight="bold" fill="#111" textLength="52.50" lengthAdjust="spacingAndGlyphs">Days post-blood meal</text>
<polyline points="511.8,207.1 524.7,152.1 550.5,156.9 563.4,155.8 589.3,167.6 615.1,153.6 628.0,159.8" fill="none" stroke="#f0625c" stroke-width="1.15" stroke-linejoin="round" stroke-opacity="0.9"/>
<circle cx="511.8" cy="207.1" r="0.85" fill="#f0625c"/>
<circle cx="524.7" cy="152.1" r="0.85" fill="#f0625c"/>
<circle cx="550.5" cy="156.9" r="0.85" fill="#f0625c"/>
<circle cx="563.4" cy="155.8" r="0.85" fill="#f0625c"/>
<circle cx="589.3" cy="167.6" r="0.85" fill="#f0625c"/>
<circle cx="615.1" cy="153.6" r="0.85" fill="#f0625c"/>
<circle cx="628.0" cy="159.8" r="0.85" fill="#f0625c"/>
<polyline points="511.8,194.6 524.7,172.0 550.5,167.6 563.4,163.7 589.3,150.3 615.1,153.6 628.0,151.4" fill="none" stroke="#3ad63a" stroke-width="1.15" stroke-linejoin="round" stroke-opacity="0.9"/>
<circle cx="511.8" cy="194.6" r="0.85" fill="#3ad63a"/>
<circle cx="524.7" cy="172.0" r="0.85" fill="#3ad63a"/>
<circle cx="550.5" cy="167.6" r="0.85" fill="#3ad63a"/>
<circle cx="563.4" cy="163.7" r="0.85" fill="#3ad63a"/>
<circle cx="589.3" cy="150.3" r="0.85" fill="#3ad63a"/>
<circle cx="615.1" cy="153.6" r="0.85" fill="#3ad63a"/>
<circle cx="628.0" cy="151.4" r="0.85" fill="#3ad63a"/>
<polyline points="511.8,116.2 524.7,172.0 550.5,172.0 563.4,173.6 589.3,172.0 615.1,174.2 628.0,173.6" fill="none" stroke="#5a8cf5" stroke-width="1.15" stroke-linejoin="round" stroke-opacity="0.9"/>
<circle cx="511.8" cy="116.2" r="0.85" fill="#5a8cf5"/>
<circle cx="524.7" cy="172.0" r="0.85" fill="#5a8cf5"/>
<circle cx="550.5" cy="172.0" r="0.85" fill="#5a8cf5"/>
<circle cx="563.4" cy="173.6" r="0.85" fill="#5a8cf5"/>
<circle cx="589.3" cy="172.0" r="0.85" fill="#5a8cf5"/>
<circle cx="615.1" cy="174.2" r="0.85" fill="#5a8cf5"/>
<circle cx="628.0" cy="173.6" r="0.85" fill="#5a8cf5"/>
<text x="581.5" y="116.9" font-size="5.5" font-weight="bold" fill="#111" textLength="48.50" lengthAdjust="spacingAndGlyphs">Cluster &amp; overall trend</text>
<line x1="581.8" y1="120.40" x2="585.6" y2="120.40" stroke="#f0625c" stroke-width="0.9"/>
<circle cx="583.70" cy="120.40" r="1.2" fill="#f0625c"/>
<text x="585.6" y="121.95" font-size="4.7" fill="#111" textLength="15.20" lengthAdjust="spacingAndGlyphs">Cluster 1</text>
<text x="601.10" y="121.70" font-size="3.7" fill="#333" textLength="30.40" lengthAdjust="spacingAndGlyphs"> - 44 genes, Trend 2</text>
<line x1="581.8" y1="126.00" x2="585.6" y2="126.00" stroke="#3ad63a" stroke-width="0.9"/>
<circle cx="583.70" cy="126.00" r="1.2" fill="#3ad63a"/>
<text x="585.6" y="127.55" font-size="4.7" fill="#111" textLength="15.20" lengthAdjust="spacingAndGlyphs">Cluster 2</text>
<text x="601.10" y="127.30" font-size="3.7" fill="#333" textLength="30.40" lengthAdjust="spacingAndGlyphs"> - 24 genes, Trend 2</text>
<line x1="581.8" y1="131.60" x2="585.6" y2="131.60" stroke="#5a8cf5" stroke-width="0.9"/>
<circle cx="583.70" cy="131.60" r="1.2" fill="#5a8cf5"/>
<text x="585.6" y="133.15" font-size="4.7" fill="#111" textLength="15.20" lengthAdjust="spacingAndGlyphs">Cluster 3</text>
<text x="601.10" y="132.90" font-size="3.7" fill="#333" textLength="30.40" lengthAdjust="spacingAndGlyphs"> - 381 genes, Trend 1</text>
<line x1="467" y1="221.3" x2="648" y2="221.3" stroke="#8a8a8a" stroke-width="1"/>
<rect x="451.1" y="268.8" width="31.70" height="14.80" fill="#de949a" stroke="#5a5a5a" stroke-width="0.8"/>
<text x="453.0" y="281.0" font-size="12.5" fill="#000" stroke="#000" stroke-width="0.3" textLength="27.50" lengthAdjust="spacingAndGlyphs">28°C</text>
<rect x="505.4" y="223.0" width="129.20" height="99.60" fill="#fff" stroke="#d2d2d2" stroke-width="0.6"/>
<line x1="504.2" y1="231.40" x2="505.4" y2="231.40" stroke="#aaa" stroke-width="0.4"/>
<text x="0" y="0" font-size="3.4" fill="#888" text-anchor="middle" transform="translate(503.80,231.40) rotate(-90)">2</text>
<line x1="504.2" y1="253.40" x2="505.4" y2="253.40" stroke="#aaa" stroke-width="0.4"/>
<text x="0" y="0" font-size="3.4" fill="#888" text-anchor="middle" transform="translate(503.80,253.40) rotate(-90)">1</text>
<line x1="504.2" y1="275.40" x2="505.4" y2="275.40" stroke="#aaa" stroke-width="0.4"/>
<text x="0" y="0" font-size="3.4" fill="#888" text-anchor="middle" transform="translate(503.80,275.40) rotate(-90)">0</text>
<line x1="504.2" y1="297.40" x2="505.4" y2="297.40" stroke="#aaa" stroke-width="0.4"/>
<text x="0" y="0" font-size="3.4" fill="#888" text-anchor="middle" transform="translate(503.80,297.40) rotate(-90)">-1</text>
<line x1="504.2" y1="319.40" x2="505.4" y2="319.40" stroke="#aaa" stroke-width="0.4"/>
<text x="0" y="0" font-size="3.4" fill="#888" text-anchor="middle" transform="translate(503.80,319.40) rotate(-90)">-2</text>
<line x1="505.50" y1="322.6" x2="505.50" y2="323.8" stroke="#aaa" stroke-width="0.4"/>
<text x="505.50" y="326.00" font-size="3.4" fill="#888" text-anchor="middle" font-weight="normal" >0</text>
<line x1="537.60" y1="322.6" x2="537.60" y2="323.8" stroke="#aaa" stroke-width="0.4"/>
<text x="537.60" y="326.00" font-size="3.4" fill="#888" text-anchor="middle" font-weight="normal" >5</text>
<line x1="570.20" y1="322.6" x2="570.20" y2="323.8" stroke="#aaa" stroke-width="0.4"/>
<text x="570.20" y="326.00" font-size="3.4" fill="#888" text-anchor="middle" font-weight="normal" >10</text>
<line x1="602.20" y1="322.6" x2="602.20" y2="323.8" stroke="#aaa" stroke-width="0.4"/>
<text x="602.20" y="326.00" font-size="3.4" fill="#888" text-anchor="middle" font-weight="normal" >15</text>
<line x1="634.50" y1="322.6" x2="634.50" y2="323.8" stroke="#aaa" stroke-width="0.4"/>
<text x="634.50" y="326.00" font-size="3.4" fill="#888" text-anchor="middle" font-weight="normal" >20</text>
<text x="0" y="0" font-size="5.2" font-weight="bold" fill="#111" text-anchor="middle" textLength="101.00" lengthAdjust="spacingAndGlyphs" transform="translate(499.6,273.00) rotate(-90)">Standard deviation from expression mean</text>
<text x="545.2" y="329.8" font-size="5.7" font-weight="bold" fill="#111" textLength="52.50" lengthAdjust="spacingAndGlyphs">Days post-blood meal</text>
<polyline points="511.8,318.3 524.7,261.5 550.5,270.8 563.4,265.3 589.3,291.9 615.1,307.1 628.0,303.8" fill="none" stroke="#f0625c" stroke-width="1.15" stroke-linejoin="round" stroke-opacity="0.9"/>
<circle cx="511.8" cy="318.3" r="0.85" fill="#f0625c"/>
<circle cx="524.7" cy="261.5" r="0.85" fill="#f0625c"/>
<circle cx="550.5" cy="270.8" r="0.85" fill="#f0625c"/>
<circle cx="563.4" cy="265.3" r="0.85" fill="#f0625c"/>
<circle cx="589.3" cy="291.9" r="0.85" fill="#f0625c"/>
<circle cx="615.1" cy="307.1" r="0.85" fill="#f0625c"/>
<circle cx="628.0" cy="303.8" r="0.85" fill="#f0625c"/>
<polyline points="511.8,245.7 524.7,309.9 550.5,308.2 563.4,309.9 589.3,291.9 615.1,273.2 628.0,279.1" fill="none" stroke="#3ad63a" stroke-width="1.15" stroke-linejoin="round" stroke-opacity="0.9"/>
<circle cx="511.8" cy="245.7" r="0.85" fill="#3ad63a"/>
<circle cx="524.7" cy="309.9" r="0.85" fill="#3ad63a"/>
<circle cx="550.5" cy="308.2" r="0.85" fill="#3ad63a"/>
<circle cx="563.4" cy="309.9" r="0.85" fill="#3ad63a"/>
<circle cx="589.3" cy="291.9" r="0.85" fill="#3ad63a"/>
<circle cx="615.1" cy="273.2" r="0.85" fill="#3ad63a"/>
<circle cx="628.0" cy="279.1" r="0.85" fill="#3ad63a"/>
<polyline points="511.8,227.0 524.7,297.0 550.5,300.3 563.4,301.4 589.3,299.2 615.1,296.7 628.0,297.4" fill="none" stroke="#5a8cf5" stroke-width="1.15" stroke-linejoin="round" stroke-opacity="0.9"/>
<circle cx="511.8" cy="227.0" r="0.85" fill="#5a8cf5"/>
<circle cx="524.7" cy="297.0" r="0.85" fill="#5a8cf5"/>
<circle cx="550.5" cy="300.3" r="0.85" fill="#5a8cf5"/>
<circle cx="563.4" cy="301.4" r="0.85" fill="#5a8cf5"/>
<circle cx="589.3" cy="299.2" r="0.85" fill="#5a8cf5"/>
<circle cx="615.1" cy="296.7" r="0.85" fill="#5a8cf5"/>
<circle cx="628.0" cy="297.4" r="0.85" fill="#5a8cf5"/>
<text x="581.5" y="227.3" font-size="5.5" font-weight="bold" fill="#111" textLength="48.50" lengthAdjust="spacingAndGlyphs">Cluster &amp; overall trend</text>
<line x1="581.8" y1="230.80" x2="585.6" y2="230.80" stroke="#f0625c" stroke-width="0.9"/>
<circle cx="583.70" cy="230.80" r="1.2" fill="#f0625c"/>
<text x="585.6" y="232.35" font-size="4.7" fill="#111" textLength="15.20" lengthAdjust="spacingAndGlyphs">Cluster 1</text>
<text x="601.10" y="232.10" font-size="3.7" fill="#333" textLength="30.40" lengthAdjust="spacingAndGlyphs"> - 62 genes, Trend 2</text>
<line x1="581.8" y1="236.40" x2="585.6" y2="236.40" stroke="#3ad63a" stroke-width="0.9"/>
<circle cx="583.70" cy="236.40" r="1.2" fill="#3ad63a"/>
<text x="585.6" y="237.95" font-size="4.7" fill="#111" textLength="15.20" lengthAdjust="spacingAndGlyphs">Cluster 2</text>
<text x="601.10" y="237.70" font-size="3.7" fill="#333" textLength="30.40" lengthAdjust="spacingAndGlyphs"> - 92 genes, Trend 1</text>
<line x1="581.8" y1="242.00" x2="585.6" y2="242.00" stroke="#5a8cf5" stroke-width="0.9"/>
<circle cx="583.70" cy="242.00" r="1.2" fill="#5a8cf5"/>
<text x="585.6" y="243.55" font-size="4.7" fill="#111" textLength="15.20" lengthAdjust="spacingAndGlyphs">Cluster 3</text>
<text x="601.10" y="243.30" font-size="3.7" fill="#333" textLength="30.40" lengthAdjust="spacingAndGlyphs"> - 299 genes, Trend 1</text>
<rect x="510.3" y="557.3" width="29.50" height="13.80" fill="#a0fdfd" stroke="#5a5a5a" stroke-width="0.8"/>
<text x="512.3" y="568.5" font-size="11.5" fill="#000" stroke="#000" stroke-width="0.3" textLength="25.80" lengthAdjust="spacingAndGlyphs">20°C</text>
<rect x="553.4" y="515.8" width="119.20" height="92.50" fill="#fff" stroke="#d2d2d2" stroke-width="0.6"/>
<line x1="552.1999999999999" y1="538.90" x2="553.4" y2="538.90" stroke="#aaa" stroke-width="0.4"/>
<text x="0" y="0" font-size="3.4" fill="#888" text-anchor="middle" transform="translate(551.80,538.90) rotate(-90)">1</text>
<line x1="552.1999999999999" y1="563.90" x2="553.4" y2="563.90" stroke="#aaa" stroke-width="0.4"/>
<text x="0" y="0" font-size="3.4" fill="#888" text-anchor="middle" transform="translate(551.80,563.90) rotate(-90)">0</text>
<line x1="552.1999999999999" y1="588.40" x2="553.4" y2="588.40" stroke="#aaa" stroke-width="0.4"/>
<text x="0" y="0" font-size="3.4" fill="#888" text-anchor="middle" transform="translate(551.80,588.40) rotate(-90)">-1</text>
<line x1="553.90" y1="608.3" x2="553.90" y2="609.5" stroke="#aaa" stroke-width="0.4"/>
<text x="553.90" y="611.70" font-size="3.4" fill="#888" text-anchor="middle" font-weight="normal" >0</text>
<line x1="595.20" y1="608.3" x2="595.20" y2="609.5" stroke="#aaa" stroke-width="0.4"/>
<text x="595.20" y="611.70" font-size="3.4" fill="#888" text-anchor="middle" font-weight="normal" >5</text>
<line x1="640.10" y1="608.3" x2="640.10" y2="609.5" stroke="#aaa" stroke-width="0.4"/>
<text x="640.10" y="611.70" font-size="3.4" fill="#888" text-anchor="middle" font-weight="normal" >10</text>
<line x1="672.60" y1="608.3" x2="672.60" y2="609.5" stroke="#aaa" stroke-width="0.4"/>
<text x="672.60" y="611.70" font-size="3.4" fill="#888" text-anchor="middle" font-weight="normal" >15</text>
<text x="0" y="0" font-size="4.8" font-weight="bold" fill="#111" text-anchor="middle" textLength="93.00" lengthAdjust="spacingAndGlyphs" transform="translate(548.9,562.50) rotate(-90)">Standard deviation from expression mean</text>
<text x="590.1" y="616.6" font-size="5.6" font-weight="bold" fill="#111" textLength="52.70" lengthAdjust="spacingAndGlyphs">Days post-blood meal</text>
<polyline points="558.9,519.8 577.5,573.6 612.9,575.1 631.0,575.5 667.4,575.5" fill="none" stroke="#f0625c" stroke-width="1.15" stroke-linejoin="round" stroke-opacity="0.9"/>
<circle cx="558.9" cy="519.8" r="0.85" fill="#f0625c"/>
<circle cx="577.5" cy="573.6" r="0.85" fill="#f0625c"/>
<circle cx="612.9" cy="575.1" r="0.85" fill="#f0625c"/>
<circle cx="631.0" cy="575.5" r="0.85" fill="#f0625c"/>
<circle cx="667.4" cy="575.5" r="0.85" fill="#f0625c"/>
<polyline points="558.9,603.6 577.5,545.5 612.9,553.0 631.0,558.2 667.4,558.2" fill="none" stroke="#7cc42c" stroke-width="1.15" stroke-linejoin="round" stroke-opacity="0.9"/>
<circle cx="558.9" cy="603.6" r="0.85" fill="#7cc42c"/>
<circle cx="577.5" cy="545.5" r="0.85" fill="#7cc42c"/>
<circle cx="612.9" cy="553.0" r="0.85" fill="#7cc42c"/>
<circle cx="631.0" cy="558.2" r="0.85" fill="#7cc42c"/>
<circle cx="667.4" cy="558.2" r="0.85" fill="#7cc42c"/>
<polyline points="558.9,600.5 577.5,573.6 612.9,551.6 631.0,546.3 667.4,548.4" fill="none" stroke="#3fd6d2" stroke-width="1.15" stroke-linejoin="round" stroke-opacity="0.9"/>
<circle cx="558.9" cy="600.5" r="0.85" fill="#3fd6d2"/>
<circle cx="577.5" cy="573.6" r="0.85" fill="#3fd6d2"/>
<circle cx="612.9" cy="551.6" r="0.85" fill="#3fd6d2"/>
<circle cx="631.0" cy="546.3" r="0.85" fill="#3fd6d2"/>
<circle cx="667.4" cy="548.4" r="0.85" fill="#3fd6d2"/>
<polyline points="558.9,527.9 577.5,553.3 612.9,577.2 631.0,580.0 667.4,580.8" fill="none" stroke="#b36cf2" stroke-width="1.15" stroke-linejoin="round" stroke-opacity="0.9"/>
<circle cx="558.9" cy="527.9" r="0.85" fill="#b36cf2"/>
<circle cx="577.5" cy="553.3" r="0.85" fill="#b36cf2"/>
<circle cx="612.9" cy="577.2" r="0.85" fill="#b36cf2"/>
<circle cx="631.0" cy="580.0" r="0.85" fill="#b36cf2"/>
<circle cx="667.4" cy="580.8" r="0.85" fill="#b36cf2"/>
<text x="622.4" y="520.8" font-size="5.1" font-weight="bold" fill="#111" textLength="44.40" lengthAdjust="spacingAndGlyphs">Cluster &amp; overall trend</text>
<line x1="622.7" y1="523.60" x2="626.4" y2="523.60" stroke="#f0625c" stroke-width="0.9"/>
<circle cx="624.55" cy="523.60" r="1.2" fill="#f0625c"/>
<text x="626.4" y="525.15" font-size="4.5" fill="#111" textLength="14.70" lengthAdjust="spacingAndGlyphs">Cluster 1</text>
<text x="641.40" y="524.90" font-size="3.5" fill="#333" textLength="28.80" lengthAdjust="spacingAndGlyphs"> - 474 genes, Trend 1</text>
<line x1="622.7" y1="528.90" x2="626.4" y2="528.90" stroke="#7cc42c" stroke-width="0.9"/>
<circle cx="624.55" cy="528.90" r="1.2" fill="#7cc42c"/>
<text x="626.4" y="530.45" font-size="4.5" fill="#111" textLength="14.70" lengthAdjust="spacingAndGlyphs">Cluster 2</text>
<text x="641.40" y="530.20" font-size="3.5" fill="#333" textLength="28.80" lengthAdjust="spacingAndGlyphs"> - 151 genes, Trend 2</text>
<line x1="622.7" y1="534.20" x2="626.4" y2="534.20" stroke="#3fd6d2" stroke-width="0.9"/>
<circle cx="624.55" cy="534.20" r="1.2" fill="#3fd6d2"/>
<text x="626.4" y="535.75" font-size="4.5" fill="#111" textLength="14.70" lengthAdjust="spacingAndGlyphs">Cluster 3</text>
<text x="641.40" y="535.50" font-size="3.5" fill="#333" textLength="28.80" lengthAdjust="spacingAndGlyphs"> - 165 genes, Trend 2</text>
<line x1="622.7" y1="539.50" x2="626.4" y2="539.50" stroke="#b36cf2" stroke-width="0.9"/>
<circle cx="624.55" cy="539.50" r="1.2" fill="#b36cf2"/>
<text x="626.4" y="541.05" font-size="4.5" fill="#111" textLength="14.70" lengthAdjust="spacingAndGlyphs">Cluster 4</text>
<text x="641.40" y="540.80" font-size="3.5" fill="#333" textLength="28.80" lengthAdjust="spacingAndGlyphs"> - 111 genes, Trend 1</text>
<line x1="510.3" y1="617.7" x2="675.5" y2="617.7" stroke="#8a8a8a" stroke-width="1"/>
<rect x="510.3" y="664.4" width="29.50" height="14.10" fill="#a4d27e" stroke="#5a5a5a" stroke-width="0.8"/>
<text x="512.6" y="675.8" font-size="11.5" fill="#000" stroke="#000" stroke-width="0.3" textLength="25.30" lengthAdjust="spacingAndGlyphs">24°C</text>
<rect x="553.4" y="622.8" width="119.20" height="93.10" fill="#fff" stroke="#d2d2d2" stroke-width="0.6"/>
<line x1="552.1999999999999" y1="645.90" x2="553.4" y2="645.90" stroke="#aaa" stroke-width="0.4"/>
<text x="0" y="0" font-size="3.4" fill="#888" text-anchor="middle" transform="translate(551.80,645.90) rotate(-90)">1</text>
<line x1="552.1999999999999" y1="670.80" x2="553.4" y2="670.80" stroke="#aaa" stroke-width="0.4"/>
<text x="0" y="0" font-size="3.4" fill="#888" text-anchor="middle" transform="translate(551.80,670.80) rotate(-90)">0</text>
<line x1="552.1999999999999" y1="695.90" x2="553.4" y2="695.90" stroke="#aaa" stroke-width="0.4"/>
<text x="0" y="0" font-size="3.4" fill="#888" text-anchor="middle" transform="translate(551.80,695.90) rotate(-90)">-1</text>
<line x1="553.90" y1="715.9" x2="553.90" y2="717.1" stroke="#aaa" stroke-width="0.4"/>
<text x="553.90" y="719.30" font-size="3.4" fill="#888" text-anchor="middle" font-weight="normal" >0</text>
<line x1="595.20" y1="715.9" x2="595.20" y2="717.1" stroke="#aaa" stroke-width="0.4"/>
<text x="595.20" y="719.30" font-size="3.4" fill="#888" text-anchor="middle" font-weight="normal" >5</text>
<line x1="640.10" y1="715.9" x2="640.10" y2="717.1" stroke="#aaa" stroke-width="0.4"/>
<text x="640.10" y="719.30" font-size="3.4" fill="#888" text-anchor="middle" font-weight="normal" >10</text>
<line x1="672.60" y1="715.9" x2="672.60" y2="717.1" stroke="#aaa" stroke-width="0.4"/>
<text x="672.60" y="719.30" font-size="3.4" fill="#888" text-anchor="middle" font-weight="normal" >15</text>
<text x="0" y="0" font-size="4.8" font-weight="bold" fill="#111" text-anchor="middle" textLength="93.00" lengthAdjust="spacingAndGlyphs" transform="translate(548.9,669.50) rotate(-90)">Standard deviation from expression mean</text>
<text x="590.1" y="722.5" font-size="5.6" font-weight="bold" fill="#111" textLength="52.70" lengthAdjust="spacingAndGlyphs">Days post-blood meal</text>
<polyline points="558.9,626.7 577.5,681.0 612.9,682.1 631.0,682.1 667.4,682.4" fill="none" stroke="#f0625c" stroke-width="1.15" stroke-linejoin="round" stroke-opacity="0.9"/>
<circle cx="558.9" cy="626.7" r="0.85" fill="#f0625c"/>
<circle cx="577.5" cy="681.0" r="0.85" fill="#f0625c"/>
<circle cx="612.9" cy="682.1" r="0.85" fill="#f0625c"/>
<circle cx="631.0" cy="682.1" r="0.85" fill="#f0625c"/>
<circle cx="667.4" cy="682.4" r="0.85" fill="#f0625c"/>
<polyline points="558.9,710.5 577.5,651.0 612.9,666.2 631.0,659.4 667.4,666.7" fill="none" stroke="#7cc42c" stroke-width="1.15" stroke-linejoin="round" stroke-opacity="0.9"/>
<circle cx="558.9" cy="710.5" r="0.85" fill="#7cc42c"/>
<circle cx="577.5" cy="651.0" r="0.85" fill="#7cc42c"/>
<circle cx="612.9" cy="666.2" r="0.85" fill="#7cc42c"/>
<circle cx="631.0" cy="659.4" r="0.85" fill="#7cc42c"/>
<circle cx="667.4" cy="666.7" r="0.85" fill="#7cc42c"/>
<polyline points="558.9,710.5 577.5,674.0 612.9,660.8 631.0,657.3 667.4,651.9" fill="none" stroke="#3fd6d2" stroke-width="1.15" stroke-linejoin="round" stroke-opacity="0.9"/>
<circle cx="558.9" cy="710.5" r="0.85" fill="#3fd6d2"/>
<circle cx="577.5" cy="674.0" r="0.85" fill="#3fd6d2"/>
<circle cx="612.9" cy="660.8" r="0.85" fill="#3fd6d2"/>
<circle cx="631.0" cy="657.3" r="0.85" fill="#3fd6d2"/>
<circle cx="667.4" cy="651.9" r="0.85" fill="#3fd6d2"/>
<polyline points="558.9,628.9 577.5,670.0 612.9,681.6 631.0,685.1 667.4,687.5" fill="none" stroke="#b36cf2" stroke-width="1.15" stroke-linejoin="round" stroke-opacity="0.9"/>
<circle cx="558.9" cy="628.9" r="0.85" fill="#b36cf2"/>
<circle cx="577.5" cy="670.0" r="0.85" fill="#b36cf2"/>
<circle cx="612.9" cy="681.6" r="0.85" fill="#b36cf2"/>
<circle cx="631.0" cy="685.1" r="0.85" fill="#b36cf2"/>
<circle cx="667.4" cy="687.5" r="0.85" fill="#b36cf2"/>
<text x="622.4" y="627.7" font-size="5.1" font-weight="bold" fill="#111" textLength="44.40" lengthAdjust="spacingAndGlyphs">Cluster &amp; overall trend</text>
<line x1="622.7" y1="630.80" x2="626.4" y2="630.80" stroke="#f0625c" stroke-width="0.9"/>
<circle cx="624.55" cy="630.80" r="1.2" fill="#f0625c"/>
<text x="626.4" y="632.35" font-size="4.5" fill="#111" textLength="14.70" lengthAdjust="spacingAndGlyphs">Cluster 1</text>
<text x="641.40" y="632.10" font-size="3.5" fill="#333" textLength="28.80" lengthAdjust="spacingAndGlyphs"> - 446 genes, Trend 1</text>
<line x1="622.7" y1="636.10" x2="626.4" y2="636.10" stroke="#7cc42c" stroke-width="0.9"/>
<circle cx="624.55" cy="636.10" r="1.2" fill="#7cc42c"/>
<text x="626.4" y="637.65" font-size="4.5" fill="#111" textLength="14.70" lengthAdjust="spacingAndGlyphs">Cluster 2</text>
<text x="641.40" y="637.40" font-size="3.5" fill="#333" textLength="28.80" lengthAdjust="spacingAndGlyphs"> - 125 genes, Trend 2</text>
<line x1="622.7" y1="641.40" x2="626.4" y2="641.40" stroke="#3fd6d2" stroke-width="0.9"/>
<circle cx="624.55" cy="641.40" r="1.2" fill="#3fd6d2"/>
<text x="626.4" y="642.95" font-size="4.5" fill="#111" textLength="14.70" lengthAdjust="spacingAndGlyphs">Cluster 3</text>
<text x="641.40" y="642.70" font-size="3.5" fill="#333" textLength="28.80" lengthAdjust="spacingAndGlyphs"> - 194 genes, Trend 2</text>
<line x1="622.7" y1="646.70" x2="626.4" y2="646.70" stroke="#b36cf2" stroke-width="0.9"/>
<circle cx="624.55" cy="646.70" r="1.2" fill="#b36cf2"/>
<text x="626.4" y="648.25" font-size="4.5" fill="#111" textLength="14.70" lengthAdjust="spacingAndGlyphs">Cluster 4</text>
<text x="641.40" y="648.00" font-size="3.5" fill="#333" textLength="28.80" lengthAdjust="spacingAndGlyphs"> - 137 genes, Trend 1</text>
<line x1="510.3" y1="724.9" x2="675.5" y2="724.9" stroke="#8a8a8a" stroke-width="1"/>
<rect x="510.3" y="767.0" width="29.50" height="13.80" fill="#de949a" stroke="#5a5a5a" stroke-width="0.8"/>
<text x="512.1" y="778.5" font-size="11.5" fill="#000" stroke="#000" stroke-width="0.3" textLength="25.40" lengthAdjust="spacingAndGlyphs">28°C</text>
<rect x="553.4" y="726.8" width="119.20" height="92.20" fill="#fff" stroke="#d2d2d2" stroke-width="0.6"/>
<line x1="552.1999999999999" y1="749.60" x2="553.4" y2="749.60" stroke="#aaa" stroke-width="0.4"/>
<text x="0" y="0" font-size="3.4" fill="#888" text-anchor="middle" transform="translate(551.80,749.60) rotate(-90)">1</text>
<line x1="552.1999999999999" y1="773.90" x2="553.4" y2="773.90" stroke="#aaa" stroke-width="0.4"/>
<text x="0" y="0" font-size="3.4" fill="#888" text-anchor="middle" transform="translate(551.80,773.90) rotate(-90)">0</text>
<line x1="552.1999999999999" y1="798.70" x2="553.4" y2="798.70" stroke="#aaa" stroke-width="0.4"/>
<text x="0" y="0" font-size="3.4" fill="#888" text-anchor="middle" transform="translate(551.80,798.70) rotate(-90)">-1</text>
<line x1="553.90" y1="819.0" x2="553.90" y2="820.2" stroke="#aaa" stroke-width="0.4"/>
<text x="553.90" y="822.40" font-size="3.4" fill="#888" text-anchor="middle" font-weight="normal" >0</text>
<line x1="595.20" y1="819.0" x2="595.20" y2="820.2" stroke="#aaa" stroke-width="0.4"/>
<text x="595.20" y="822.40" font-size="3.4" fill="#888" text-anchor="middle" font-weight="normal" >5</text>
<line x1="640.10" y1="819.0" x2="640.10" y2="820.2" stroke="#aaa" stroke-width="0.4"/>
<text x="640.10" y="822.40" font-size="3.4" fill="#888" text-anchor="middle" font-weight="normal" >10</text>
<line x1="672.60" y1="819.0" x2="672.60" y2="820.2" stroke="#aaa" stroke-width="0.4"/>
<text x="672.60" y="822.40" font-size="3.4" fill="#888" text-anchor="middle" font-weight="normal" >15</text>
<text x="0" y="0" font-size="4.8" font-weight="bold" fill="#111" text-anchor="middle" textLength="93.00" lengthAdjust="spacingAndGlyphs" transform="translate(548.9,773.50) rotate(-90)">Standard deviation from expression mean</text>
<text x="590.1" y="827.8" font-size="5.6" font-weight="bold" fill="#111" textLength="52.70" lengthAdjust="spacingAndGlyphs">Days post-blood meal</text>
<polyline points="558.9,731.2 577.5,785.2 612.9,784.7 631.0,784.4 667.4,786.6" fill="none" stroke="#f0625c" stroke-width="1.15" stroke-linejoin="round" stroke-opacity="0.9"/>
<circle cx="558.9" cy="731.2" r="0.85" fill="#f0625c"/>
<circle cx="577.5" cy="785.2" r="0.85" fill="#f0625c"/>
<circle cx="612.9" cy="784.7" r="0.85" fill="#f0625c"/>
<circle cx="631.0" cy="784.4" r="0.85" fill="#f0625c"/>
<circle cx="667.4" cy="786.6" r="0.85" fill="#f0625c"/>
<polyline points="558.9,814.4 577.5,754.2 612.9,769.6 631.0,767.1 667.4,766.3" fill="none" stroke="#7cc42c" stroke-width="1.15" stroke-linejoin="round" stroke-opacity="0.9"/>
<circle cx="558.9" cy="814.4" r="0.85" fill="#7cc42c"/>
<circle cx="577.5" cy="754.2" r="0.85" fill="#7cc42c"/>
<circle cx="612.9" cy="769.6" r="0.85" fill="#7cc42c"/>
<circle cx="631.0" cy="767.1" r="0.85" fill="#7cc42c"/>
<circle cx="667.4" cy="766.3" r="0.85" fill="#7cc42c"/>
<polyline points="558.9,814.9 577.5,774.4 612.9,762.8 631.0,757.7 667.4,761.7" fill="none" stroke="#3fd6d2" stroke-width="1.15" stroke-linejoin="round" stroke-opacity="0.9"/>
<circle cx="558.9" cy="814.9" r="0.85" fill="#3fd6d2"/>
<circle cx="577.5" cy="774.4" r="0.85" fill="#3fd6d2"/>
<circle cx="612.9" cy="762.8" r="0.85" fill="#3fd6d2"/>
<circle cx="631.0" cy="757.7" r="0.85" fill="#3fd6d2"/>
<circle cx="667.4" cy="761.7" r="0.85" fill="#3fd6d2"/>
<polyline points="558.9,731.7 577.5,777.1 612.9,787.4 631.0,786.0 667.4,787.9" fill="none" stroke="#b36cf2" stroke-width="1.15" stroke-linejoin="round" stroke-opacity="0.9"/>
<circle cx="558.9" cy="731.7" r="0.85" fill="#b36cf2"/>
<circle cx="577.5" cy="777.1" r="0.85" fill="#b36cf2"/>
<circle cx="612.9" cy="787.4" r="0.85" fill="#b36cf2"/>
<circle cx="631.0" cy="786.0" r="0.85" fill="#b36cf2"/>
<circle cx="667.4" cy="787.9" r="0.85" fill="#b36cf2"/>
<text x="622.4" y="731.8" font-size="5.1" font-weight="bold" fill="#111" textLength="44.40" lengthAdjust="spacingAndGlyphs">Cluster &amp; overall trend</text>
<line x1="622.7" y1="734.70" x2="626.4" y2="734.70" stroke="#f0625c" stroke-width="0.9"/>
<circle cx="624.55" cy="734.70" r="1.2" fill="#f0625c"/>
<text x="626.4" y="736.25" font-size="4.5" fill="#111" textLength="14.70" lengthAdjust="spacingAndGlyphs">Cluster 1</text>
<text x="641.40" y="736.00" font-size="3.5" fill="#333" textLength="28.80" lengthAdjust="spacingAndGlyphs"> - 385 genes, Trend 1</text>
<line x1="622.7" y1="740.00" x2="626.4" y2="740.00" stroke="#7cc42c" stroke-width="0.9"/>
<circle cx="624.55" cy="740.00" r="1.2" fill="#7cc42c"/>
<text x="626.4" y="741.55" font-size="4.5" fill="#111" textLength="14.70" lengthAdjust="spacingAndGlyphs">Cluster 2</text>
<text x="641.40" y="741.30" font-size="3.5" fill="#333" textLength="28.80" lengthAdjust="spacingAndGlyphs"> - 120 genes, Trend 2</text>
<line x1="622.7" y1="745.30" x2="626.4" y2="745.30" stroke="#3fd6d2" stroke-width="0.9"/>
<circle cx="624.55" cy="745.30" r="1.2" fill="#3fd6d2"/>
<text x="626.4" y="746.85" font-size="4.5" fill="#111" textLength="14.70" lengthAdjust="spacingAndGlyphs">Cluster 3</text>
<text x="641.40" y="746.60" font-size="3.5" fill="#333" textLength="28.80" lengthAdjust="spacingAndGlyphs"> - 197 genes, Trend 2</text>
<line x1="622.7" y1="750.60" x2="626.4" y2="750.60" stroke="#b36cf2" stroke-width="0.9"/>
<circle cx="624.55" cy="750.60" r="1.2" fill="#b36cf2"/>
<text x="626.4" y="752.15" font-size="4.5" fill="#111" textLength="14.70" lengthAdjust="spacingAndGlyphs">Cluster 4</text>
<text x="641.40" y="751.90" font-size="3.5" fill="#333" textLength="28.80" lengthAdjust="spacingAndGlyphs"> - 200 genes, Trend 1</text>
</svg>
</body></html>
